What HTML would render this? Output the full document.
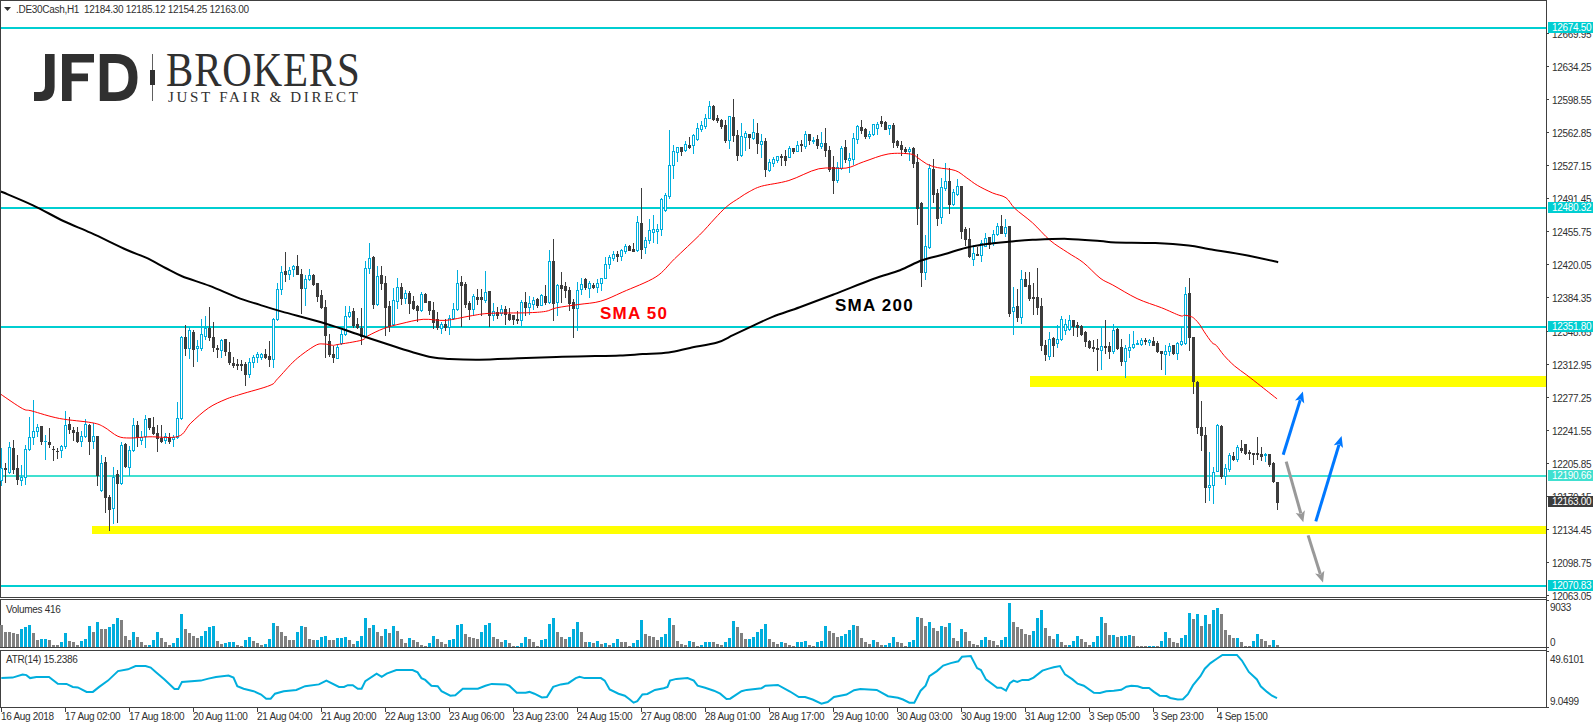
<!DOCTYPE html>
<html><head><meta charset="utf-8">
<style>
html,body{margin:0;padding:0;background:#fff;}
body{width:1593px;height:725px;position:relative;overflow:hidden;font-family:"Liberation Sans",sans-serif;}
svg{position:absolute;left:0;top:0;}
.t{position:absolute;font-size:10px;color:#303030;white-space:nowrap;line-height:12px;letter-spacing:-0.3px;}
.box{position:absolute;left:1548px;width:45px;height:11px;color:#fff;font-size:10px;line-height:11px;letter-spacing:-0.3px;padding-left:4px;box-sizing:border-box;white-space:nowrap;}
.sma{position:absolute;font-weight:bold;font-size:17px;line-height:17px;white-space:nowrap;letter-spacing:1.25px;}
.brk{position:absolute;font-family:"Liberation Serif",serif;color:#303030;white-space:nowrap;}
</style></head><body>
<svg width="1593" height="725" shape-rendering="crispEdges">

<rect x="0" y="0" width="1547" height="1" fill="#404040"/>
<rect x="0" y="0" width="1" height="598" fill="#404040"/>
<rect x="0" y="597" width="1547" height="1" fill="#404040"/>
<rect x="1546" y="0" width="1" height="708" fill="#404040"/>
<rect x="0" y="599" width="1547" height="1" fill="#404040"/>
<rect x="0" y="599" width="1" height="49" fill="#404040"/>
<rect x="0" y="647" width="1547" height="1" fill="#404040"/>
<rect x="0" y="650" width="1547" height="1" fill="#404040"/>
<rect x="0" y="650" width="1" height="58" fill="#404040"/>
<rect x="0" y="707" width="1547" height="1" fill="#404040"/>

<rect x="1547" y="33" width="2" height="1" fill="#404040"/><rect x="1547" y="66" width="2" height="1" fill="#404040"/><rect x="1547" y="99" width="2" height="1" fill="#404040"/><rect x="1547" y="132" width="2" height="1" fill="#404040"/><rect x="1547" y="165" width="2" height="1" fill="#404040"/><rect x="1547" y="198" width="2" height="1" fill="#404040"/><rect x="1547" y="231" width="2" height="1" fill="#404040"/><rect x="1547" y="264" width="2" height="1" fill="#404040"/><rect x="1547" y="297" width="2" height="1" fill="#404040"/><rect x="1547" y="331" width="2" height="1" fill="#404040"/><rect x="1547" y="364" width="2" height="1" fill="#404040"/><rect x="1547" y="397" width="2" height="1" fill="#404040"/><rect x="1547" y="430" width="2" height="1" fill="#404040"/><rect x="1547" y="463" width="2" height="1" fill="#404040"/><rect x="1547" y="496" width="2" height="1" fill="#404040"/><rect x="1547" y="529" width="2" height="1" fill="#404040"/><rect x="1547" y="562" width="2" height="1" fill="#404040"/><rect x="1547" y="595" width="2" height="1" fill="#404040"/><rect x="1547" y="600" width="2" height="1" fill="#404040"/><rect x="1547" y="647" width="2" height="1" fill="#404040"/><rect x="1547" y="651" width="2" height="1" fill="#404040"/><rect x="1547" y="707" width="2" height="1" fill="#404040"/><rect x="1" y="708" width="1" height="4" fill="#404040"/><rect x="65" y="708" width="1" height="4" fill="#404040"/><rect x="129" y="708" width="1" height="4" fill="#404040"/><rect x="193" y="708" width="1" height="4" fill="#404040"/><rect x="257" y="708" width="1" height="4" fill="#404040"/><rect x="321" y="708" width="1" height="4" fill="#404040"/><rect x="385" y="708" width="1" height="4" fill="#404040"/><rect x="449" y="708" width="1" height="4" fill="#404040"/><rect x="513" y="708" width="1" height="4" fill="#404040"/><rect x="577" y="708" width="1" height="4" fill="#404040"/><rect x="641" y="708" width="1" height="4" fill="#404040"/><rect x="705" y="708" width="1" height="4" fill="#404040"/><rect x="769" y="708" width="1" height="4" fill="#404040"/><rect x="833" y="708" width="1" height="4" fill="#404040"/><rect x="897" y="708" width="1" height="4" fill="#404040"/><rect x="961" y="708" width="1" height="4" fill="#404040"/><rect x="1025" y="708" width="1" height="4" fill="#404040"/><rect x="1089" y="708" width="1" height="4" fill="#404040"/><rect x="1153" y="708" width="1" height="4" fill="#404040"/><rect x="1217" y="708" width="1" height="4" fill="#404040"/>
<rect x="1" y="27" width="1545" height="2" fill="#00CED1"/><rect x="1" y="207" width="1545" height="2" fill="#00CED1"/><rect x="1" y="326" width="1545" height="2" fill="#00CED1"/><rect x="1" y="475" width="1545" height="2" fill="#40E0D0"/><rect x="1" y="585" width="1545" height="2" fill="#00CED1"/>
<rect x="1030" y="376" width="516" height="11" fill="#FFFF00"/><rect x="92" y="526" width="1454" height="8" fill="#FFFF00"/>
<rect x="0" y="625" width="3" height="22" fill="#808080"/><rect x="4" y="632" width="3" height="15" fill="#808080"/><rect x="8" y="632" width="3" height="15" fill="#808080"/><rect x="12" y="633" width="3" height="14" fill="#808080"/><rect x="16" y="634" width="3" height="13" fill="#808080"/><rect x="20" y="629" width="3" height="18" fill="#00AEDD"/><rect x="24" y="627" width="3" height="20" fill="#00AEDD"/><rect x="28" y="625" width="3" height="22" fill="#00AEDD"/><rect x="32" y="633" width="3" height="14" fill="#808080"/><rect x="36" y="640" width="3" height="7" fill="#808080"/><rect x="40" y="639" width="3" height="8" fill="#00AEDD"/><rect x="44" y="639" width="3" height="8" fill="#00AEDD"/><rect x="48" y="640" width="3" height="7" fill="#808080"/><rect x="52" y="645" width="3" height="2" fill="#808080"/><rect x="56" y="645" width="3" height="2" fill="#808080"/><rect x="60" y="642" width="3" height="5" fill="#00AEDD"/><rect x="64" y="633" width="3" height="14" fill="#00AEDD"/><rect x="68" y="641" width="3" height="6" fill="#808080"/><rect x="72" y="642" width="3" height="5" fill="#808080"/><rect x="76" y="645" width="3" height="2" fill="#808080"/><rect x="80" y="641" width="3" height="6" fill="#00AEDD"/><rect x="84" y="639" width="3" height="8" fill="#00AEDD"/><rect x="88" y="626" width="3" height="21" fill="#00AEDD"/><rect x="92" y="632" width="3" height="15" fill="#808080"/><rect x="96" y="622" width="3" height="25" fill="#00AEDD"/><rect x="100" y="629" width="3" height="18" fill="#808080"/><rect x="104" y="629" width="3" height="18" fill="#808080"/><rect x="108" y="627" width="3" height="20" fill="#00AEDD"/><rect x="112" y="624" width="3" height="23" fill="#00AEDD"/><rect x="116" y="618" width="3" height="29" fill="#00AEDD"/><rect x="120" y="620" width="3" height="27" fill="#808080"/><rect x="124" y="636" width="3" height="11" fill="#808080"/><rect x="128" y="640" width="3" height="7" fill="#808080"/><rect x="132" y="632" width="3" height="15" fill="#00AEDD"/><rect x="136" y="637" width="3" height="10" fill="#808080"/><rect x="140" y="642" width="3" height="5" fill="#808080"/><rect x="144" y="645" width="3" height="2" fill="#808080"/><rect x="148" y="645" width="3" height="2" fill="#00AEDD"/><rect x="152" y="640" width="3" height="7" fill="#00AEDD"/><rect x="156" y="632" width="3" height="15" fill="#00AEDD"/><rect x="160" y="638" width="3" height="9" fill="#808080"/><rect x="164" y="642" width="3" height="5" fill="#808080"/><rect x="168" y="645" width="3" height="2" fill="#808080"/><rect x="172" y="643" width="3" height="4" fill="#00AEDD"/><rect x="176" y="638" width="3" height="9" fill="#00AEDD"/><rect x="180" y="614" width="3" height="33" fill="#00AEDD"/><rect x="184" y="629" width="3" height="18" fill="#808080"/><rect x="188" y="633" width="3" height="14" fill="#808080"/><rect x="192" y="636" width="3" height="11" fill="#808080"/><rect x="196" y="638" width="3" height="9" fill="#808080"/><rect x="200" y="636" width="3" height="11" fill="#00AEDD"/><rect x="204" y="631" width="3" height="16" fill="#00AEDD"/><rect x="208" y="627" width="3" height="20" fill="#00AEDD"/><rect x="212" y="626" width="3" height="21" fill="#00AEDD"/><rect x="216" y="641" width="3" height="6" fill="#808080"/><rect x="220" y="644" width="3" height="3" fill="#808080"/><rect x="224" y="643" width="3" height="4" fill="#00AEDD"/><rect x="228" y="642" width="3" height="5" fill="#00AEDD"/><rect x="232" y="642" width="3" height="5" fill="#00AEDD"/><rect x="236" y="645" width="3" height="2" fill="#808080"/><rect x="240" y="646" width="3" height="1" fill="#808080"/><rect x="244" y="640" width="3" height="7" fill="#00AEDD"/><rect x="248" y="637" width="3" height="10" fill="#00AEDD"/><rect x="252" y="641" width="3" height="6" fill="#808080"/><rect x="256" y="643" width="3" height="4" fill="#808080"/><rect x="260" y="645" width="3" height="2" fill="#808080"/><rect x="264" y="644" width="3" height="3" fill="#00AEDD"/><rect x="268" y="639" width="3" height="8" fill="#00AEDD"/><rect x="272" y="623" width="3" height="24" fill="#00AEDD"/><rect x="276" y="626" width="3" height="21" fill="#808080"/><rect x="280" y="632" width="3" height="15" fill="#808080"/><rect x="284" y="636" width="3" height="11" fill="#808080"/><rect x="288" y="640" width="3" height="7" fill="#808080"/><rect x="292" y="640" width="3" height="7" fill="#808080"/><rect x="296" y="632" width="3" height="15" fill="#00AEDD"/><rect x="300" y="626" width="3" height="21" fill="#00AEDD"/><rect x="304" y="627" width="3" height="20" fill="#808080"/><rect x="308" y="639" width="3" height="8" fill="#808080"/><rect x="312" y="640" width="3" height="7" fill="#808080"/><rect x="316" y="640" width="3" height="7" fill="#00AEDD"/><rect x="320" y="637" width="3" height="10" fill="#00AEDD"/><rect x="324" y="636" width="3" height="11" fill="#00AEDD"/><rect x="328" y="640" width="3" height="7" fill="#808080"/><rect x="332" y="640" width="3" height="7" fill="#808080"/><rect x="336" y="638" width="3" height="9" fill="#00AEDD"/><rect x="340" y="638" width="3" height="9" fill="#00AEDD"/><rect x="344" y="637" width="3" height="10" fill="#00AEDD"/><rect x="348" y="640" width="3" height="7" fill="#808080"/><rect x="352" y="644" width="3" height="3" fill="#808080"/><rect x="356" y="641" width="3" height="6" fill="#00AEDD"/><rect x="360" y="636" width="3" height="11" fill="#00AEDD"/><rect x="364" y="618" width="3" height="29" fill="#00AEDD"/><rect x="368" y="628" width="3" height="19" fill="#808080"/><rect x="372" y="625" width="3" height="22" fill="#00AEDD"/><rect x="376" y="632" width="3" height="15" fill="#808080"/><rect x="380" y="636" width="3" height="11" fill="#808080"/><rect x="384" y="629" width="3" height="18" fill="#00AEDD"/><rect x="388" y="633" width="3" height="14" fill="#808080"/><rect x="392" y="626" width="3" height="21" fill="#00AEDD"/><rect x="396" y="631" width="3" height="16" fill="#808080"/><rect x="400" y="639" width="3" height="8" fill="#808080"/><rect x="404" y="643" width="3" height="4" fill="#808080"/><rect x="408" y="638" width="3" height="9" fill="#00AEDD"/><rect x="412" y="640" width="3" height="7" fill="#808080"/><rect x="416" y="642" width="3" height="5" fill="#808080"/><rect x="420" y="645" width="3" height="2" fill="#808080"/><rect x="424" y="646" width="3" height="1" fill="#808080"/><rect x="428" y="643" width="3" height="4" fill="#00AEDD"/><rect x="432" y="636" width="3" height="11" fill="#00AEDD"/><rect x="436" y="639" width="3" height="8" fill="#808080"/><rect x="440" y="642" width="3" height="5" fill="#808080"/><rect x="444" y="644" width="3" height="3" fill="#808080"/><rect x="448" y="640" width="3" height="7" fill="#00AEDD"/><rect x="452" y="639" width="3" height="8" fill="#00AEDD"/><rect x="456" y="625" width="3" height="22" fill="#00AEDD"/><rect x="460" y="624" width="3" height="23" fill="#00AEDD"/><rect x="464" y="634" width="3" height="13" fill="#808080"/><rect x="468" y="637" width="3" height="10" fill="#808080"/><rect x="472" y="638" width="3" height="9" fill="#808080"/><rect x="476" y="639" width="3" height="8" fill="#808080"/><rect x="480" y="632" width="3" height="15" fill="#00AEDD"/><rect x="484" y="625" width="3" height="22" fill="#00AEDD"/><rect x="488" y="623" width="3" height="24" fill="#00AEDD"/><rect x="492" y="637" width="3" height="10" fill="#808080"/><rect x="496" y="639" width="3" height="8" fill="#808080"/><rect x="500" y="642" width="3" height="5" fill="#808080"/><rect x="504" y="640" width="3" height="7" fill="#00AEDD"/><rect x="508" y="643" width="3" height="4" fill="#808080"/><rect x="512" y="646" width="3" height="1" fill="#808080"/><rect x="516" y="646" width="3" height="1" fill="#00AEDD"/><rect x="520" y="643" width="3" height="4" fill="#00AEDD"/><rect x="524" y="637" width="3" height="10" fill="#00AEDD"/><rect x="528" y="639" width="3" height="8" fill="#808080"/><rect x="532" y="642" width="3" height="5" fill="#808080"/><rect x="536" y="646" width="3" height="1" fill="#808080"/><rect x="540" y="640" width="3" height="7" fill="#00AEDD"/><rect x="544" y="639" width="3" height="8" fill="#00AEDD"/><rect x="548" y="624" width="3" height="23" fill="#00AEDD"/><rect x="552" y="618" width="3" height="29" fill="#00AEDD"/><rect x="556" y="632" width="3" height="15" fill="#808080"/><rect x="560" y="637" width="3" height="10" fill="#808080"/><rect x="564" y="639" width="3" height="8" fill="#808080"/><rect x="568" y="637" width="3" height="10" fill="#00AEDD"/><rect x="572" y="629" width="3" height="18" fill="#00AEDD"/><rect x="576" y="622" width="3" height="25" fill="#00AEDD"/><rect x="580" y="632" width="3" height="15" fill="#808080"/><rect x="584" y="642" width="3" height="5" fill="#808080"/><rect x="588" y="642" width="3" height="5" fill="#00AEDD"/><rect x="592" y="643" width="3" height="4" fill="#808080"/><rect x="596" y="641" width="3" height="6" fill="#00AEDD"/><rect x="600" y="644" width="3" height="3" fill="#808080"/><rect x="604" y="643" width="3" height="4" fill="#00AEDD"/><rect x="608" y="645" width="3" height="2" fill="#808080"/><rect x="612" y="643" width="3" height="4" fill="#00AEDD"/><rect x="616" y="639" width="3" height="8" fill="#00AEDD"/><rect x="620" y="642" width="3" height="5" fill="#808080"/><rect x="624" y="642" width="3" height="5" fill="#808080"/><rect x="628" y="646" width="3" height="1" fill="#808080"/><rect x="632" y="643" width="3" height="4" fill="#00AEDD"/><rect x="636" y="640" width="3" height="7" fill="#00AEDD"/><rect x="640" y="620" width="3" height="27" fill="#00AEDD"/><rect x="644" y="634" width="3" height="13" fill="#808080"/><rect x="648" y="636" width="3" height="11" fill="#808080"/><rect x="652" y="637" width="3" height="10" fill="#808080"/><rect x="656" y="640" width="3" height="7" fill="#808080"/><rect x="660" y="637" width="3" height="10" fill="#00AEDD"/><rect x="664" y="634" width="3" height="13" fill="#00AEDD"/><rect x="668" y="618" width="3" height="29" fill="#00AEDD"/><rect x="672" y="625" width="3" height="22" fill="#808080"/><rect x="676" y="641" width="3" height="6" fill="#808080"/><rect x="680" y="644" width="3" height="3" fill="#808080"/><rect x="684" y="645" width="3" height="2" fill="#808080"/><rect x="688" y="641" width="3" height="6" fill="#00AEDD"/><rect x="692" y="642" width="3" height="5" fill="#808080"/><rect x="696" y="646" width="3" height="1" fill="#808080"/><rect x="700" y="645" width="3" height="2" fill="#00AEDD"/><rect x="704" y="642" width="3" height="5" fill="#00AEDD"/><rect x="708" y="642" width="3" height="5" fill="#00AEDD"/><rect x="712" y="642" width="3" height="5" fill="#808080"/><rect x="716" y="644" width="3" height="3" fill="#808080"/><rect x="720" y="645" width="3" height="2" fill="#808080"/><rect x="724" y="642" width="3" height="5" fill="#00AEDD"/><rect x="728" y="638" width="3" height="9" fill="#00AEDD"/><rect x="732" y="621" width="3" height="26" fill="#00AEDD"/><rect x="736" y="627" width="3" height="20" fill="#808080"/><rect x="740" y="633" width="3" height="14" fill="#808080"/><rect x="744" y="639" width="3" height="8" fill="#808080"/><rect x="748" y="639" width="3" height="8" fill="#00AEDD"/><rect x="752" y="637" width="3" height="10" fill="#00AEDD"/><rect x="756" y="632" width="3" height="15" fill="#00AEDD"/><rect x="760" y="629" width="3" height="18" fill="#00AEDD"/><rect x="764" y="624" width="3" height="23" fill="#00AEDD"/><rect x="768" y="639" width="3" height="8" fill="#808080"/><rect x="772" y="642" width="3" height="5" fill="#808080"/><rect x="776" y="644" width="3" height="3" fill="#808080"/><rect x="780" y="642" width="3" height="5" fill="#00AEDD"/><rect x="784" y="643" width="3" height="4" fill="#808080"/><rect x="788" y="645" width="3" height="2" fill="#808080"/><rect x="792" y="646" width="3" height="1" fill="#808080"/><rect x="796" y="642" width="3" height="5" fill="#00AEDD"/><rect x="800" y="642" width="3" height="5" fill="#00AEDD"/><rect x="804" y="641" width="3" height="6" fill="#00AEDD"/><rect x="808" y="645" width="3" height="2" fill="#808080"/><rect x="812" y="646" width="3" height="1" fill="#808080"/><rect x="816" y="642" width="3" height="5" fill="#00AEDD"/><rect x="820" y="641" width="3" height="6" fill="#00AEDD"/><rect x="824" y="626" width="3" height="21" fill="#00AEDD"/><rect x="828" y="631" width="3" height="16" fill="#808080"/><rect x="832" y="633" width="3" height="14" fill="#808080"/><rect x="836" y="637" width="3" height="10" fill="#808080"/><rect x="840" y="636" width="3" height="11" fill="#00AEDD"/><rect x="844" y="634" width="3" height="13" fill="#00AEDD"/><rect x="848" y="630" width="3" height="17" fill="#00AEDD"/><rect x="852" y="625" width="3" height="22" fill="#00AEDD"/><rect x="856" y="626" width="3" height="21" fill="#808080"/><rect x="860" y="638" width="3" height="9" fill="#808080"/><rect x="864" y="642" width="3" height="5" fill="#808080"/><rect x="868" y="644" width="3" height="3" fill="#808080"/><rect x="872" y="640" width="3" height="7" fill="#00AEDD"/><rect x="876" y="642" width="3" height="5" fill="#808080"/><rect x="880" y="645" width="3" height="2" fill="#808080"/><rect x="884" y="645" width="3" height="2" fill="#00AEDD"/><rect x="888" y="643" width="3" height="4" fill="#00AEDD"/><rect x="892" y="637" width="3" height="10" fill="#00AEDD"/><rect x="896" y="642" width="3" height="5" fill="#808080"/><rect x="900" y="643" width="3" height="4" fill="#808080"/><rect x="904" y="646" width="3" height="1" fill="#808080"/><rect x="908" y="642" width="3" height="5" fill="#00AEDD"/><rect x="912" y="640" width="3" height="7" fill="#00AEDD"/><rect x="916" y="617" width="3" height="30" fill="#00AEDD"/><rect x="920" y="618" width="3" height="29" fill="#808080"/><rect x="924" y="626" width="3" height="21" fill="#808080"/><rect x="928" y="622" width="3" height="25" fill="#00AEDD"/><rect x="932" y="628" width="3" height="19" fill="#808080"/><rect x="936" y="631" width="3" height="16" fill="#808080"/><rect x="940" y="626" width="3" height="21" fill="#00AEDD"/><rect x="944" y="627" width="3" height="20" fill="#808080"/><rect x="948" y="623" width="3" height="24" fill="#00AEDD"/><rect x="952" y="638" width="3" height="9" fill="#808080"/><rect x="956" y="641" width="3" height="6" fill="#808080"/><rect x="960" y="629" width="3" height="18" fill="#00AEDD"/><rect x="964" y="632" width="3" height="15" fill="#808080"/><rect x="968" y="641" width="3" height="6" fill="#808080"/><rect x="972" y="644" width="3" height="3" fill="#808080"/><rect x="976" y="645" width="3" height="2" fill="#808080"/><rect x="980" y="640" width="3" height="7" fill="#00AEDD"/><rect x="984" y="637" width="3" height="10" fill="#00AEDD"/><rect x="988" y="640" width="3" height="7" fill="#808080"/><rect x="992" y="641" width="3" height="6" fill="#808080"/><rect x="996" y="645" width="3" height="2" fill="#808080"/><rect x="1000" y="640" width="3" height="7" fill="#00AEDD"/><rect x="1004" y="637" width="3" height="10" fill="#00AEDD"/><rect x="1008" y="603" width="3" height="44" fill="#00AEDD"/><rect x="1012" y="622" width="3" height="25" fill="#808080"/><rect x="1016" y="627" width="3" height="20" fill="#808080"/><rect x="1020" y="629" width="3" height="18" fill="#808080"/><rect x="1024" y="634" width="3" height="13" fill="#808080"/><rect x="1028" y="635" width="3" height="12" fill="#808080"/><rect x="1032" y="631" width="3" height="16" fill="#00AEDD"/><rect x="1036" y="618" width="3" height="29" fill="#00AEDD"/><rect x="1040" y="610" width="3" height="37" fill="#00AEDD"/><rect x="1044" y="628" width="3" height="19" fill="#808080"/><rect x="1048" y="636" width="3" height="11" fill="#808080"/><rect x="1052" y="639" width="3" height="8" fill="#808080"/><rect x="1056" y="634" width="3" height="13" fill="#00AEDD"/><rect x="1060" y="642" width="3" height="5" fill="#808080"/><rect x="1064" y="645" width="3" height="2" fill="#808080"/><rect x="1068" y="645" width="3" height="2" fill="#00AEDD"/><rect x="1072" y="641" width="3" height="6" fill="#00AEDD"/><rect x="1076" y="636" width="3" height="11" fill="#00AEDD"/><rect x="1080" y="639" width="3" height="8" fill="#808080"/><rect x="1084" y="642" width="3" height="5" fill="#808080"/><rect x="1088" y="645" width="3" height="2" fill="#808080"/><rect x="1092" y="642" width="3" height="5" fill="#00AEDD"/><rect x="1096" y="636" width="3" height="11" fill="#00AEDD"/><rect x="1100" y="617" width="3" height="30" fill="#00AEDD"/><rect x="1104" y="623" width="3" height="24" fill="#808080"/><rect x="1108" y="635" width="3" height="12" fill="#808080"/><rect x="1112" y="635" width="3" height="12" fill="#00AEDD"/><rect x="1116" y="637" width="3" height="10" fill="#808080"/><rect x="1120" y="636" width="3" height="11" fill="#00AEDD"/><rect x="1124" y="636" width="3" height="11" fill="#00AEDD"/><rect x="1128" y="635" width="3" height="12" fill="#00AEDD"/><rect x="1132" y="636" width="3" height="11" fill="#808080"/><rect x="1136" y="646" width="3" height="1" fill="#808080"/><rect x="1140" y="646" width="3" height="1" fill="#808080"/><rect x="1144" y="646" width="3" height="1" fill="#808080"/><rect x="1148" y="646" width="3" height="1" fill="#00AEDD"/><rect x="1152" y="646" width="3" height="1" fill="#00AEDD"/><rect x="1156" y="646" width="3" height="1" fill="#808080"/><rect x="1160" y="641" width="3" height="6" fill="#00AEDD"/><rect x="1164" y="632" width="3" height="15" fill="#00AEDD"/><rect x="1168" y="638" width="3" height="9" fill="#808080"/><rect x="1172" y="642" width="3" height="5" fill="#808080"/><rect x="1176" y="643" width="3" height="4" fill="#808080"/><rect x="1180" y="638" width="3" height="9" fill="#00AEDD"/><rect x="1184" y="635" width="3" height="12" fill="#00AEDD"/><rect x="1188" y="613" width="3" height="34" fill="#00AEDD"/><rect x="1192" y="619" width="3" height="28" fill="#808080"/><rect x="1196" y="614" width="3" height="33" fill="#00AEDD"/><rect x="1200" y="626" width="3" height="21" fill="#808080"/><rect x="1204" y="615" width="3" height="32" fill="#00AEDD"/><rect x="1208" y="624" width="3" height="23" fill="#808080"/><rect x="1212" y="610" width="3" height="37" fill="#00AEDD"/><rect x="1216" y="608" width="3" height="39" fill="#00AEDD"/><rect x="1220" y="614" width="3" height="33" fill="#808080"/><rect x="1224" y="630" width="3" height="17" fill="#808080"/><rect x="1228" y="635" width="3" height="12" fill="#808080"/><rect x="1232" y="638" width="3" height="9" fill="#808080"/><rect x="1236" y="638" width="3" height="9" fill="#00AEDD"/><rect x="1240" y="642" width="3" height="5" fill="#808080"/><rect x="1244" y="646" width="3" height="1" fill="#808080"/><rect x="1248" y="646" width="3" height="1" fill="#808080"/><rect x="1252" y="641" width="3" height="6" fill="#00AEDD"/><rect x="1256" y="634" width="3" height="13" fill="#00AEDD"/><rect x="1260" y="639" width="3" height="8" fill="#808080"/><rect x="1264" y="641" width="3" height="6" fill="#808080"/><rect x="1268" y="645" width="3" height="2" fill="#808080"/><rect x="1272" y="640" width="3" height="7" fill="#00AEDD"/><rect x="1276" y="645" width="3" height="2" fill="#808080"/>
<rect x="1" y="448" width="1" height="20" fill="#00AEDD"/><rect x="1" y="481" width="1" height="5" fill="#00AEDD"/><rect x="0" y="468" width="3" height="13" fill="#00AEDD"/><rect x="1" y="469" width="1" height="11" fill="#fff"/><rect x="5" y="463" width="1" height="5" fill="#3C3C3C"/><rect x="5" y="470" width="1" height="13" fill="#3C3C3C"/><rect x="4" y="468" width="3" height="2" fill="#3C3C3C"/><rect x="9" y="442" width="1" height="5" fill="#00AEDD"/><rect x="9" y="473" width="1" height="1" fill="#00AEDD"/><rect x="8" y="447" width="3" height="26" fill="#00AEDD"/><rect x="9" y="448" width="1" height="24" fill="#fff"/><rect x="13" y="440" width="1" height="8" fill="#3C3C3C"/><rect x="13" y="470" width="1" height="4" fill="#3C3C3C"/><rect x="12" y="448" width="3" height="22" fill="#3C3C3C"/><rect x="17" y="455" width="1" height="13" fill="#3C3C3C"/><rect x="17" y="480" width="1" height="5" fill="#3C3C3C"/><rect x="16" y="468" width="3" height="12" fill="#3C3C3C"/><rect x="21" y="465" width="1" height="12" fill="#00AEDD"/><rect x="21" y="481" width="1" height="5" fill="#00AEDD"/><rect x="20" y="477" width="3" height="4" fill="#00AEDD"/><rect x="21" y="478" width="1" height="2" fill="#fff"/><rect x="25" y="445" width="1" height="4" fill="#00AEDD"/><rect x="25" y="478" width="1" height="7" fill="#00AEDD"/><rect x="24" y="449" width="3" height="29" fill="#00AEDD"/><rect x="25" y="450" width="1" height="27" fill="#fff"/><rect x="29" y="417" width="1" height="20" fill="#00AEDD"/><rect x="29" y="450" width="1" height="1" fill="#00AEDD"/><rect x="28" y="437" width="3" height="13" fill="#00AEDD"/><rect x="29" y="438" width="1" height="11" fill="#fff"/><rect x="33" y="400" width="1" height="31" fill="#00AEDD"/><rect x="33" y="438" width="1" height="7" fill="#00AEDD"/><rect x="32" y="431" width="3" height="7" fill="#00AEDD"/><rect x="33" y="432" width="1" height="5" fill="#fff"/><rect x="37" y="424" width="1" height="3" fill="#00AEDD"/><rect x="37" y="432" width="1" height="5" fill="#00AEDD"/><rect x="36" y="427" width="3" height="5" fill="#00AEDD"/><rect x="37" y="428" width="1" height="3" fill="#fff"/><rect x="41" y="442" width="1" height="3" fill="#3C3C3C"/><rect x="40" y="426" width="3" height="16" fill="#3C3C3C"/><rect x="45" y="435" width="1" height="6" fill="#00AEDD"/><rect x="45" y="442" width="1" height="18" fill="#00AEDD"/><rect x="44" y="441" width="3" height="1" fill="#00AEDD"/><rect x="49" y="428" width="1" height="14" fill="#3C3C3C"/><rect x="49" y="445" width="1" height="3" fill="#3C3C3C"/><rect x="48" y="442" width="3" height="3" fill="#3C3C3C"/><rect x="53" y="446" width="1" height="3" fill="#3C3C3C"/><rect x="53" y="450" width="1" height="11" fill="#3C3C3C"/><rect x="52" y="449" width="3" height="1" fill="#3C3C3C"/><rect x="57" y="448" width="1" height="3" fill="#3C3C3C"/><rect x="57" y="452" width="1" height="7" fill="#3C3C3C"/><rect x="56" y="451" width="3" height="1" fill="#3C3C3C"/><rect x="61" y="445" width="1" height="1" fill="#00AEDD"/><rect x="61" y="451" width="1" height="7" fill="#00AEDD"/><rect x="60" y="446" width="3" height="5" fill="#00AEDD"/><rect x="61" y="447" width="1" height="3" fill="#fff"/><rect x="65" y="411" width="1" height="14" fill="#00AEDD"/><rect x="65" y="447" width="1" height="2" fill="#00AEDD"/><rect x="64" y="425" width="3" height="22" fill="#00AEDD"/><rect x="65" y="426" width="1" height="20" fill="#fff"/><rect x="69" y="417" width="1" height="7" fill="#3C3C3C"/><rect x="69" y="430" width="1" height="4" fill="#3C3C3C"/><rect x="68" y="424" width="3" height="6" fill="#3C3C3C"/><rect x="73" y="427" width="1" height="3" fill="#3C3C3C"/><rect x="73" y="433" width="1" height="8" fill="#3C3C3C"/><rect x="72" y="430" width="3" height="3" fill="#3C3C3C"/><rect x="77" y="427" width="1" height="5" fill="#3C3C3C"/><rect x="77" y="442" width="1" height="1" fill="#3C3C3C"/><rect x="76" y="432" width="3" height="10" fill="#3C3C3C"/><rect x="81" y="431" width="1" height="5" fill="#00AEDD"/><rect x="81" y="442" width="1" height="5" fill="#00AEDD"/><rect x="80" y="436" width="3" height="6" fill="#00AEDD"/><rect x="81" y="437" width="1" height="4" fill="#fff"/><rect x="85" y="419" width="1" height="5" fill="#00AEDD"/><rect x="85" y="437" width="1" height="1" fill="#00AEDD"/><rect x="84" y="424" width="3" height="13" fill="#00AEDD"/><rect x="85" y="425" width="1" height="11" fill="#fff"/><rect x="89" y="424" width="1" height="1" fill="#3C3C3C"/><rect x="89" y="442" width="1" height="13" fill="#3C3C3C"/><rect x="88" y="425" width="3" height="17" fill="#3C3C3C"/><rect x="93" y="423" width="1" height="13" fill="#00AEDD"/><rect x="93" y="442" width="1" height="7" fill="#00AEDD"/><rect x="92" y="436" width="3" height="6" fill="#00AEDD"/><rect x="93" y="437" width="1" height="4" fill="#fff"/><rect x="97" y="476" width="1" height="10" fill="#3C3C3C"/><rect x="96" y="436" width="3" height="40" fill="#3C3C3C"/><rect x="101" y="455" width="1" height="8" fill="#00AEDD"/><rect x="101" y="491" width="1" height="1" fill="#00AEDD"/><rect x="100" y="463" width="3" height="28" fill="#00AEDD"/><rect x="101" y="464" width="1" height="26" fill="#fff"/><rect x="105" y="457" width="1" height="5" fill="#3C3C3C"/><rect x="105" y="498" width="1" height="15" fill="#3C3C3C"/><rect x="104" y="462" width="3" height="36" fill="#3C3C3C"/><rect x="109" y="495" width="1" height="2" fill="#3C3C3C"/><rect x="109" y="510" width="1" height="21" fill="#3C3C3C"/><rect x="108" y="497" width="3" height="13" fill="#3C3C3C"/><rect x="113" y="467" width="1" height="10" fill="#00AEDD"/><rect x="113" y="509" width="1" height="15" fill="#00AEDD"/><rect x="112" y="477" width="3" height="32" fill="#00AEDD"/><rect x="113" y="478" width="1" height="30" fill="#fff"/><rect x="117" y="470" width="1" height="4" fill="#3C3C3C"/><rect x="117" y="484" width="1" height="39" fill="#3C3C3C"/><rect x="116" y="474" width="3" height="10" fill="#3C3C3C"/><rect x="121" y="442" width="1" height="3" fill="#00AEDD"/><rect x="121" y="484" width="1" height="1" fill="#00AEDD"/><rect x="120" y="445" width="3" height="39" fill="#00AEDD"/><rect x="121" y="446" width="1" height="37" fill="#fff"/><rect x="125" y="443" width="1" height="1" fill="#3C3C3C"/><rect x="125" y="467" width="1" height="1" fill="#3C3C3C"/><rect x="124" y="444" width="3" height="23" fill="#3C3C3C"/><rect x="129" y="446" width="1" height="4" fill="#00AEDD"/><rect x="129" y="468" width="1" height="8" fill="#00AEDD"/><rect x="128" y="450" width="3" height="18" fill="#00AEDD"/><rect x="129" y="451" width="1" height="16" fill="#fff"/><rect x="133" y="418" width="1" height="7" fill="#00AEDD"/><rect x="133" y="451" width="1" height="1" fill="#00AEDD"/><rect x="132" y="425" width="3" height="26" fill="#00AEDD"/><rect x="133" y="426" width="1" height="24" fill="#fff"/><rect x="137" y="421" width="1" height="4" fill="#3C3C3C"/><rect x="137" y="438" width="1" height="9" fill="#3C3C3C"/><rect x="136" y="425" width="3" height="13" fill="#3C3C3C"/><rect x="141" y="431" width="1" height="6" fill="#00AEDD"/><rect x="141" y="441" width="1" height="4" fill="#00AEDD"/><rect x="140" y="437" width="3" height="4" fill="#00AEDD"/><rect x="141" y="438" width="1" height="2" fill="#fff"/><rect x="145" y="415" width="1" height="4" fill="#00AEDD"/><rect x="145" y="437" width="1" height="11" fill="#00AEDD"/><rect x="144" y="419" width="3" height="18" fill="#00AEDD"/><rect x="145" y="420" width="1" height="16" fill="#fff"/><rect x="149" y="428" width="1" height="2" fill="#3C3C3C"/><rect x="148" y="418" width="3" height="10" fill="#3C3C3C"/><rect x="153" y="417" width="1" height="10" fill="#3C3C3C"/><rect x="153" y="434" width="1" height="1" fill="#3C3C3C"/><rect x="152" y="427" width="3" height="7" fill="#3C3C3C"/><rect x="157" y="425" width="1" height="8" fill="#3C3C3C"/><rect x="157" y="439" width="1" height="13" fill="#3C3C3C"/><rect x="156" y="433" width="3" height="6" fill="#3C3C3C"/><rect x="161" y="425" width="1" height="13" fill="#3C3C3C"/><rect x="161" y="442" width="1" height="1" fill="#3C3C3C"/><rect x="160" y="438" width="3" height="4" fill="#3C3C3C"/><rect x="165" y="433" width="1" height="3" fill="#00AEDD"/><rect x="165" y="441" width="1" height="3" fill="#00AEDD"/><rect x="164" y="436" width="3" height="5" fill="#00AEDD"/><rect x="165" y="437" width="1" height="3" fill="#fff"/><rect x="169" y="433" width="1" height="4" fill="#3C3C3C"/><rect x="169" y="442" width="1" height="2" fill="#3C3C3C"/><rect x="168" y="437" width="3" height="5" fill="#3C3C3C"/><rect x="173" y="435" width="1" height="2" fill="#00AEDD"/><rect x="173" y="440" width="1" height="7" fill="#00AEDD"/><rect x="172" y="437" width="3" height="3" fill="#00AEDD"/><rect x="173" y="438" width="1" height="1" fill="#fff"/><rect x="177" y="402" width="1" height="16" fill="#00AEDD"/><rect x="177" y="438" width="1" height="1" fill="#00AEDD"/><rect x="176" y="418" width="3" height="20" fill="#00AEDD"/><rect x="177" y="419" width="1" height="18" fill="#fff"/><rect x="181" y="336" width="1" height="1" fill="#00AEDD"/><rect x="181" y="419" width="1" height="1" fill="#00AEDD"/><rect x="180" y="337" width="3" height="82" fill="#00AEDD"/><rect x="181" y="338" width="1" height="80" fill="#fff"/><rect x="185" y="325" width="1" height="12" fill="#3C3C3C"/><rect x="185" y="349" width="1" height="7" fill="#3C3C3C"/><rect x="184" y="337" width="3" height="12" fill="#3C3C3C"/><rect x="189" y="327" width="1" height="3" fill="#00AEDD"/><rect x="189" y="349" width="1" height="10" fill="#00AEDD"/><rect x="188" y="330" width="3" height="19" fill="#00AEDD"/><rect x="189" y="331" width="1" height="17" fill="#fff"/><rect x="193" y="330" width="1" height="2" fill="#3C3C3C"/><rect x="193" y="350" width="1" height="17" fill="#3C3C3C"/><rect x="192" y="332" width="3" height="18" fill="#3C3C3C"/><rect x="197" y="340" width="1" height="6" fill="#00AEDD"/><rect x="197" y="349" width="1" height="13" fill="#00AEDD"/><rect x="196" y="346" width="3" height="3" fill="#00AEDD"/><rect x="197" y="347" width="1" height="1" fill="#fff"/><rect x="201" y="319" width="1" height="15" fill="#00AEDD"/><rect x="201" y="349" width="1" height="2" fill="#00AEDD"/><rect x="200" y="334" width="3" height="15" fill="#00AEDD"/><rect x="201" y="335" width="1" height="13" fill="#fff"/><rect x="205" y="316" width="1" height="12" fill="#00AEDD"/><rect x="205" y="337" width="1" height="3" fill="#00AEDD"/><rect x="204" y="328" width="3" height="9" fill="#00AEDD"/><rect x="205" y="329" width="1" height="7" fill="#fff"/><rect x="209" y="307" width="1" height="21" fill="#3C3C3C"/><rect x="209" y="338" width="1" height="3" fill="#3C3C3C"/><rect x="208" y="328" width="3" height="10" fill="#3C3C3C"/><rect x="213" y="322" width="1" height="15" fill="#3C3C3C"/><rect x="213" y="348" width="1" height="4" fill="#3C3C3C"/><rect x="212" y="337" width="3" height="11" fill="#3C3C3C"/><rect x="217" y="345" width="1" height="3" fill="#3C3C3C"/><rect x="217" y="350" width="1" height="8" fill="#3C3C3C"/><rect x="216" y="348" width="3" height="2" fill="#3C3C3C"/><rect x="221" y="339" width="1" height="1" fill="#00AEDD"/><rect x="221" y="351" width="1" height="7" fill="#00AEDD"/><rect x="220" y="340" width="3" height="11" fill="#00AEDD"/><rect x="221" y="341" width="1" height="9" fill="#fff"/><rect x="225" y="352" width="1" height="4" fill="#3C3C3C"/><rect x="224" y="339" width="3" height="13" fill="#3C3C3C"/><rect x="229" y="342" width="1" height="10" fill="#3C3C3C"/><rect x="229" y="363" width="1" height="2" fill="#3C3C3C"/><rect x="228" y="352" width="3" height="11" fill="#3C3C3C"/><rect x="233" y="357" width="1" height="6" fill="#3C3C3C"/><rect x="233" y="366" width="1" height="2" fill="#3C3C3C"/><rect x="232" y="363" width="3" height="3" fill="#3C3C3C"/><rect x="237" y="359" width="1" height="5" fill="#3C3C3C"/><rect x="237" y="366" width="1" height="4" fill="#3C3C3C"/><rect x="236" y="364" width="3" height="2" fill="#3C3C3C"/><rect x="241" y="360" width="1" height="4" fill="#3C3C3C"/><rect x="241" y="366" width="1" height="5" fill="#3C3C3C"/><rect x="240" y="364" width="3" height="2" fill="#3C3C3C"/><rect x="245" y="362" width="1" height="2" fill="#3C3C3C"/><rect x="245" y="375" width="1" height="11" fill="#3C3C3C"/><rect x="244" y="364" width="3" height="11" fill="#3C3C3C"/><rect x="249" y="358" width="1" height="4" fill="#00AEDD"/><rect x="249" y="375" width="1" height="3" fill="#00AEDD"/><rect x="248" y="362" width="3" height="13" fill="#00AEDD"/><rect x="249" y="363" width="1" height="11" fill="#fff"/><rect x="253" y="355" width="1" height="2" fill="#00AEDD"/><rect x="253" y="363" width="1" height="5" fill="#00AEDD"/><rect x="252" y="357" width="3" height="6" fill="#00AEDD"/><rect x="253" y="358" width="1" height="4" fill="#fff"/><rect x="257" y="352" width="1" height="2" fill="#00AEDD"/><rect x="257" y="358" width="1" height="5" fill="#00AEDD"/><rect x="256" y="354" width="3" height="4" fill="#00AEDD"/><rect x="257" y="355" width="1" height="2" fill="#fff"/><rect x="261" y="353" width="1" height="1" fill="#00AEDD"/><rect x="261" y="358" width="1" height="2" fill="#00AEDD"/><rect x="260" y="354" width="3" height="4" fill="#00AEDD"/><rect x="261" y="355" width="1" height="2" fill="#fff"/><rect x="265" y="349" width="1" height="5" fill="#3C3C3C"/><rect x="265" y="358" width="1" height="1" fill="#3C3C3C"/><rect x="264" y="354" width="3" height="4" fill="#3C3C3C"/><rect x="269" y="341" width="1" height="15" fill="#3C3C3C"/><rect x="269" y="360" width="1" height="7" fill="#3C3C3C"/><rect x="268" y="356" width="3" height="4" fill="#3C3C3C"/><rect x="273" y="318" width="1" height="1" fill="#00AEDD"/><rect x="273" y="360" width="1" height="8" fill="#00AEDD"/><rect x="272" y="319" width="3" height="41" fill="#00AEDD"/><rect x="273" y="320" width="1" height="39" fill="#fff"/><rect x="277" y="283" width="1" height="6" fill="#00AEDD"/><rect x="277" y="320" width="1" height="1" fill="#00AEDD"/><rect x="276" y="289" width="3" height="31" fill="#00AEDD"/><rect x="277" y="290" width="1" height="29" fill="#fff"/><rect x="281" y="266" width="1" height="6" fill="#00AEDD"/><rect x="281" y="290" width="1" height="5" fill="#00AEDD"/><rect x="280" y="272" width="3" height="18" fill="#00AEDD"/><rect x="281" y="273" width="1" height="16" fill="#fff"/><rect x="285" y="252" width="1" height="19" fill="#3C3C3C"/><rect x="285" y="275" width="1" height="7" fill="#3C3C3C"/><rect x="284" y="271" width="3" height="4" fill="#3C3C3C"/><rect x="289" y="267" width="1" height="3" fill="#00AEDD"/><rect x="289" y="275" width="1" height="5" fill="#00AEDD"/><rect x="288" y="270" width="3" height="5" fill="#00AEDD"/><rect x="289" y="271" width="1" height="3" fill="#fff"/><rect x="293" y="265" width="1" height="1" fill="#00AEDD"/><rect x="293" y="270" width="1" height="7" fill="#00AEDD"/><rect x="292" y="266" width="3" height="4" fill="#00AEDD"/><rect x="293" y="267" width="1" height="2" fill="#fff"/><rect x="297" y="255" width="1" height="11" fill="#3C3C3C"/><rect x="296" y="266" width="3" height="9" fill="#3C3C3C"/><rect x="301" y="269" width="1" height="5" fill="#3C3C3C"/><rect x="301" y="289" width="1" height="25" fill="#3C3C3C"/><rect x="300" y="274" width="3" height="15" fill="#3C3C3C"/><rect x="305" y="275" width="1" height="4" fill="#00AEDD"/><rect x="305" y="289" width="1" height="17" fill="#00AEDD"/><rect x="304" y="279" width="3" height="10" fill="#00AEDD"/><rect x="305" y="280" width="1" height="8" fill="#fff"/><rect x="309" y="269" width="1" height="6" fill="#00AEDD"/><rect x="309" y="280" width="1" height="1" fill="#00AEDD"/><rect x="308" y="275" width="3" height="5" fill="#00AEDD"/><rect x="309" y="276" width="1" height="3" fill="#fff"/><rect x="313" y="274" width="1" height="1" fill="#3C3C3C"/><rect x="313" y="285" width="1" height="1" fill="#3C3C3C"/><rect x="312" y="275" width="3" height="10" fill="#3C3C3C"/><rect x="317" y="297" width="1" height="5" fill="#3C3C3C"/><rect x="316" y="283" width="3" height="14" fill="#3C3C3C"/><rect x="321" y="290" width="1" height="5" fill="#3C3C3C"/><rect x="321" y="308" width="1" height="1" fill="#3C3C3C"/><rect x="320" y="295" width="3" height="13" fill="#3C3C3C"/><rect x="325" y="300" width="1" height="7" fill="#3C3C3C"/><rect x="325" y="336" width="1" height="22" fill="#3C3C3C"/><rect x="324" y="307" width="3" height="29" fill="#3C3C3C"/><rect x="329" y="334" width="1" height="7" fill="#3C3C3C"/><rect x="329" y="355" width="1" height="2" fill="#3C3C3C"/><rect x="328" y="341" width="3" height="14" fill="#3C3C3C"/><rect x="333" y="346" width="1" height="8" fill="#3C3C3C"/><rect x="333" y="358" width="1" height="5" fill="#3C3C3C"/><rect x="332" y="354" width="3" height="4" fill="#3C3C3C"/><rect x="337" y="344" width="1" height="3" fill="#00AEDD"/><rect x="336" y="347" width="3" height="12" fill="#00AEDD"/><rect x="337" y="348" width="1" height="10" fill="#fff"/><rect x="341" y="330" width="1" height="4" fill="#00AEDD"/><rect x="341" y="344" width="1" height="1" fill="#00AEDD"/><rect x="340" y="334" width="3" height="10" fill="#00AEDD"/><rect x="341" y="335" width="1" height="8" fill="#fff"/><rect x="345" y="306" width="1" height="10" fill="#00AEDD"/><rect x="345" y="335" width="1" height="1" fill="#00AEDD"/><rect x="344" y="316" width="3" height="19" fill="#00AEDD"/><rect x="345" y="317" width="1" height="17" fill="#fff"/><rect x="349" y="306" width="1" height="6" fill="#00AEDD"/><rect x="349" y="317" width="1" height="1" fill="#00AEDD"/><rect x="348" y="312" width="3" height="5" fill="#00AEDD"/><rect x="349" y="313" width="1" height="3" fill="#fff"/><rect x="353" y="308" width="1" height="3" fill="#3C3C3C"/><rect x="353" y="326" width="1" height="2" fill="#3C3C3C"/><rect x="352" y="311" width="3" height="15" fill="#3C3C3C"/><rect x="357" y="318" width="1" height="6" fill="#3C3C3C"/><rect x="357" y="328" width="1" height="1" fill="#3C3C3C"/><rect x="356" y="324" width="3" height="4" fill="#3C3C3C"/><rect x="361" y="308" width="1" height="20" fill="#3C3C3C"/><rect x="361" y="337" width="1" height="8" fill="#3C3C3C"/><rect x="360" y="328" width="3" height="9" fill="#3C3C3C"/><rect x="365" y="261" width="1" height="7" fill="#00AEDD"/><rect x="365" y="337" width="1" height="1" fill="#00AEDD"/><rect x="364" y="268" width="3" height="69" fill="#00AEDD"/><rect x="365" y="269" width="1" height="67" fill="#fff"/><rect x="369" y="243" width="1" height="15" fill="#00AEDD"/><rect x="369" y="269" width="1" height="5" fill="#00AEDD"/><rect x="368" y="258" width="3" height="11" fill="#00AEDD"/><rect x="369" y="259" width="1" height="9" fill="#fff"/><rect x="373" y="256" width="1" height="1" fill="#3C3C3C"/><rect x="373" y="305" width="1" height="4" fill="#3C3C3C"/><rect x="372" y="257" width="3" height="48" fill="#3C3C3C"/><rect x="377" y="266" width="1" height="10" fill="#00AEDD"/><rect x="377" y="305" width="1" height="1" fill="#00AEDD"/><rect x="376" y="276" width="3" height="29" fill="#00AEDD"/><rect x="377" y="277" width="1" height="27" fill="#fff"/><rect x="381" y="266" width="1" height="9" fill="#3C3C3C"/><rect x="381" y="284" width="1" height="6" fill="#3C3C3C"/><rect x="380" y="275" width="3" height="9" fill="#3C3C3C"/><rect x="385" y="276" width="1" height="7" fill="#3C3C3C"/><rect x="385" y="308" width="1" height="28" fill="#3C3C3C"/><rect x="384" y="283" width="3" height="25" fill="#3C3C3C"/><rect x="389" y="301" width="1" height="5" fill="#3C3C3C"/><rect x="389" y="327" width="1" height="5" fill="#3C3C3C"/><rect x="388" y="306" width="3" height="21" fill="#3C3C3C"/><rect x="393" y="288" width="1" height="12" fill="#00AEDD"/><rect x="393" y="325" width="1" height="1" fill="#00AEDD"/><rect x="392" y="300" width="3" height="25" fill="#00AEDD"/><rect x="393" y="301" width="1" height="23" fill="#fff"/><rect x="397" y="278" width="1" height="9" fill="#00AEDD"/><rect x="397" y="302" width="1" height="7" fill="#00AEDD"/><rect x="396" y="287" width="3" height="15" fill="#00AEDD"/><rect x="397" y="288" width="1" height="13" fill="#fff"/><rect x="401" y="283" width="1" height="4" fill="#3C3C3C"/><rect x="401" y="299" width="1" height="6" fill="#3C3C3C"/><rect x="400" y="287" width="3" height="12" fill="#3C3C3C"/><rect x="405" y="290" width="1" height="3" fill="#00AEDD"/><rect x="405" y="299" width="1" height="5" fill="#00AEDD"/><rect x="404" y="293" width="3" height="6" fill="#00AEDD"/><rect x="405" y="294" width="1" height="4" fill="#fff"/><rect x="409" y="291" width="1" height="2" fill="#3C3C3C"/><rect x="409" y="304" width="1" height="10" fill="#3C3C3C"/><rect x="408" y="293" width="3" height="11" fill="#3C3C3C"/><rect x="413" y="296" width="1" height="5" fill="#3C3C3C"/><rect x="413" y="309" width="1" height="1" fill="#3C3C3C"/><rect x="412" y="301" width="3" height="8" fill="#3C3C3C"/><rect x="417" y="305" width="1" height="1" fill="#3C3C3C"/><rect x="417" y="311" width="1" height="11" fill="#3C3C3C"/><rect x="416" y="306" width="3" height="5" fill="#3C3C3C"/><rect x="421" y="292" width="1" height="2" fill="#00AEDD"/><rect x="421" y="311" width="1" height="1" fill="#00AEDD"/><rect x="420" y="294" width="3" height="17" fill="#00AEDD"/><rect x="421" y="295" width="1" height="15" fill="#fff"/><rect x="425" y="293" width="1" height="1" fill="#3C3C3C"/><rect x="424" y="294" width="3" height="9" fill="#3C3C3C"/><rect x="429" y="311" width="1" height="4" fill="#3C3C3C"/><rect x="428" y="301" width="3" height="10" fill="#3C3C3C"/><rect x="433" y="302" width="1" height="8" fill="#3C3C3C"/><rect x="433" y="323" width="1" height="6" fill="#3C3C3C"/><rect x="432" y="310" width="3" height="13" fill="#3C3C3C"/><rect x="437" y="312" width="1" height="7" fill="#3C3C3C"/><rect x="437" y="328" width="1" height="2" fill="#3C3C3C"/><rect x="436" y="319" width="3" height="9" fill="#3C3C3C"/><rect x="441" y="322" width="1" height="2" fill="#00AEDD"/><rect x="441" y="329" width="1" height="5" fill="#00AEDD"/><rect x="440" y="324" width="3" height="5" fill="#00AEDD"/><rect x="441" y="325" width="1" height="3" fill="#fff"/><rect x="445" y="319" width="1" height="5" fill="#3C3C3C"/><rect x="445" y="328" width="1" height="3" fill="#3C3C3C"/><rect x="444" y="324" width="3" height="4" fill="#3C3C3C"/><rect x="449" y="315" width="1" height="3" fill="#00AEDD"/><rect x="449" y="328" width="1" height="7" fill="#00AEDD"/><rect x="448" y="318" width="3" height="10" fill="#00AEDD"/><rect x="449" y="319" width="1" height="8" fill="#fff"/><rect x="453" y="303" width="1" height="6" fill="#00AEDD"/><rect x="453" y="319" width="1" height="1" fill="#00AEDD"/><rect x="452" y="309" width="3" height="10" fill="#00AEDD"/><rect x="453" y="310" width="1" height="8" fill="#fff"/><rect x="457" y="270" width="1" height="13" fill="#00AEDD"/><rect x="457" y="310" width="1" height="1" fill="#00AEDD"/><rect x="456" y="283" width="3" height="27" fill="#00AEDD"/><rect x="457" y="284" width="1" height="25" fill="#fff"/><rect x="461" y="276" width="1" height="6" fill="#3C3C3C"/><rect x="461" y="286" width="1" height="41" fill="#3C3C3C"/><rect x="460" y="282" width="3" height="4" fill="#3C3C3C"/><rect x="465" y="282" width="1" height="2" fill="#3C3C3C"/><rect x="465" y="305" width="1" height="3" fill="#3C3C3C"/><rect x="464" y="284" width="3" height="21" fill="#3C3C3C"/><rect x="469" y="301" width="1" height="2" fill="#3C3C3C"/><rect x="469" y="310" width="1" height="10" fill="#3C3C3C"/><rect x="468" y="303" width="3" height="7" fill="#3C3C3C"/><rect x="473" y="294" width="1" height="2" fill="#00AEDD"/><rect x="473" y="310" width="1" height="6" fill="#00AEDD"/><rect x="472" y="296" width="3" height="14" fill="#00AEDD"/><rect x="473" y="297" width="1" height="12" fill="#fff"/><rect x="477" y="289" width="1" height="8" fill="#3C3C3C"/><rect x="477" y="300" width="1" height="5" fill="#3C3C3C"/><rect x="476" y="297" width="3" height="3" fill="#3C3C3C"/><rect x="481" y="289" width="1" height="8" fill="#3C3C3C"/><rect x="481" y="300" width="1" height="16" fill="#3C3C3C"/><rect x="480" y="297" width="3" height="3" fill="#3C3C3C"/><rect x="485" y="271" width="1" height="21" fill="#00AEDD"/><rect x="485" y="301" width="1" height="2" fill="#00AEDD"/><rect x="484" y="292" width="3" height="9" fill="#00AEDD"/><rect x="485" y="293" width="1" height="7" fill="#fff"/><rect x="489" y="316" width="1" height="11" fill="#3C3C3C"/><rect x="488" y="291" width="3" height="25" fill="#3C3C3C"/><rect x="493" y="303" width="1" height="8" fill="#00AEDD"/><rect x="493" y="316" width="1" height="5" fill="#00AEDD"/><rect x="492" y="311" width="3" height="5" fill="#00AEDD"/><rect x="493" y="312" width="1" height="3" fill="#fff"/><rect x="497" y="307" width="1" height="5" fill="#3C3C3C"/><rect x="497" y="316" width="1" height="3" fill="#3C3C3C"/><rect x="496" y="312" width="3" height="4" fill="#3C3C3C"/><rect x="501" y="305" width="1" height="4" fill="#00AEDD"/><rect x="501" y="314" width="1" height="2" fill="#00AEDD"/><rect x="500" y="309" width="3" height="5" fill="#00AEDD"/><rect x="501" y="310" width="1" height="3" fill="#fff"/><rect x="505" y="306" width="1" height="3" fill="#3C3C3C"/><rect x="505" y="315" width="1" height="10" fill="#3C3C3C"/><rect x="504" y="309" width="3" height="6" fill="#3C3C3C"/><rect x="509" y="308" width="1" height="6" fill="#3C3C3C"/><rect x="509" y="320" width="1" height="1" fill="#3C3C3C"/><rect x="508" y="314" width="3" height="6" fill="#3C3C3C"/><rect x="513" y="320" width="1" height="5" fill="#3C3C3C"/><rect x="512" y="315" width="3" height="5" fill="#3C3C3C"/><rect x="517" y="311" width="1" height="8" fill="#3C3C3C"/><rect x="517" y="321" width="1" height="3" fill="#3C3C3C"/><rect x="516" y="319" width="3" height="2" fill="#3C3C3C"/><rect x="521" y="300" width="1" height="2" fill="#00AEDD"/><rect x="521" y="321" width="1" height="5" fill="#00AEDD"/><rect x="520" y="302" width="3" height="19" fill="#00AEDD"/><rect x="521" y="303" width="1" height="17" fill="#fff"/><rect x="525" y="292" width="1" height="10" fill="#3C3C3C"/><rect x="525" y="308" width="1" height="8" fill="#3C3C3C"/><rect x="524" y="302" width="3" height="6" fill="#3C3C3C"/><rect x="529" y="296" width="1" height="7" fill="#00AEDD"/><rect x="529" y="308" width="1" height="7" fill="#00AEDD"/><rect x="528" y="303" width="3" height="5" fill="#00AEDD"/><rect x="529" y="304" width="1" height="3" fill="#fff"/><rect x="533" y="297" width="1" height="3" fill="#00AEDD"/><rect x="533" y="305" width="1" height="5" fill="#00AEDD"/><rect x="532" y="300" width="3" height="5" fill="#00AEDD"/><rect x="533" y="301" width="1" height="3" fill="#fff"/><rect x="537" y="298" width="1" height="1" fill="#3C3C3C"/><rect x="537" y="306" width="1" height="2" fill="#3C3C3C"/><rect x="536" y="299" width="3" height="7" fill="#3C3C3C"/><rect x="541" y="294" width="1" height="1" fill="#00AEDD"/><rect x="540" y="295" width="3" height="11" fill="#00AEDD"/><rect x="541" y="296" width="1" height="9" fill="#fff"/><rect x="545" y="285" width="1" height="11" fill="#3C3C3C"/><rect x="545" y="303" width="1" height="2" fill="#3C3C3C"/><rect x="544" y="296" width="3" height="7" fill="#3C3C3C"/><rect x="549" y="250" width="1" height="11" fill="#00AEDD"/><rect x="549" y="303" width="1" height="1" fill="#00AEDD"/><rect x="548" y="261" width="3" height="42" fill="#00AEDD"/><rect x="549" y="262" width="1" height="40" fill="#fff"/><rect x="553" y="239" width="1" height="22" fill="#3C3C3C"/><rect x="553" y="304" width="1" height="17" fill="#3C3C3C"/><rect x="552" y="261" width="3" height="43" fill="#3C3C3C"/><rect x="557" y="284" width="1" height="1" fill="#00AEDD"/><rect x="557" y="303" width="1" height="13" fill="#00AEDD"/><rect x="556" y="285" width="3" height="18" fill="#00AEDD"/><rect x="557" y="286" width="1" height="16" fill="#fff"/><rect x="561" y="272" width="1" height="13" fill="#3C3C3C"/><rect x="561" y="289" width="1" height="14" fill="#3C3C3C"/><rect x="560" y="285" width="3" height="4" fill="#3C3C3C"/><rect x="565" y="282" width="1" height="4" fill="#3C3C3C"/><rect x="565" y="291" width="1" height="7" fill="#3C3C3C"/><rect x="564" y="286" width="3" height="5" fill="#3C3C3C"/><rect x="569" y="287" width="1" height="3" fill="#3C3C3C"/><rect x="569" y="304" width="1" height="7" fill="#3C3C3C"/><rect x="568" y="290" width="3" height="14" fill="#3C3C3C"/><rect x="573" y="299" width="1" height="3" fill="#3C3C3C"/><rect x="573" y="309" width="1" height="29" fill="#3C3C3C"/><rect x="572" y="302" width="3" height="7" fill="#3C3C3C"/><rect x="577" y="282" width="1" height="8" fill="#00AEDD"/><rect x="577" y="309" width="1" height="22" fill="#00AEDD"/><rect x="576" y="290" width="3" height="19" fill="#00AEDD"/><rect x="577" y="291" width="1" height="17" fill="#fff"/><rect x="581" y="278" width="1" height="6" fill="#00AEDD"/><rect x="581" y="290" width="1" height="5" fill="#00AEDD"/><rect x="580" y="284" width="3" height="6" fill="#00AEDD"/><rect x="581" y="285" width="1" height="4" fill="#fff"/><rect x="585" y="278" width="1" height="1" fill="#3C3C3C"/><rect x="585" y="288" width="1" height="2" fill="#3C3C3C"/><rect x="584" y="279" width="3" height="9" fill="#3C3C3C"/><rect x="589" y="281" width="1" height="2" fill="#00AEDD"/><rect x="589" y="289" width="1" height="9" fill="#00AEDD"/><rect x="588" y="283" width="3" height="6" fill="#00AEDD"/><rect x="589" y="284" width="1" height="4" fill="#fff"/><rect x="593" y="283" width="1" height="2" fill="#3C3C3C"/><rect x="593" y="288" width="1" height="1" fill="#3C3C3C"/><rect x="592" y="285" width="3" height="3" fill="#3C3C3C"/><rect x="597" y="279" width="1" height="4" fill="#00AEDD"/><rect x="597" y="288" width="1" height="5" fill="#00AEDD"/><rect x="596" y="283" width="3" height="5" fill="#00AEDD"/><rect x="597" y="284" width="1" height="3" fill="#fff"/><rect x="601" y="284" width="1" height="7" fill="#00AEDD"/><rect x="600" y="278" width="3" height="6" fill="#00AEDD"/><rect x="601" y="279" width="1" height="4" fill="#fff"/><rect x="605" y="257" width="1" height="7" fill="#00AEDD"/><rect x="604" y="264" width="3" height="15" fill="#00AEDD"/><rect x="605" y="265" width="1" height="13" fill="#fff"/><rect x="609" y="255" width="1" height="2" fill="#00AEDD"/><rect x="609" y="265" width="1" height="4" fill="#00AEDD"/><rect x="608" y="257" width="3" height="8" fill="#00AEDD"/><rect x="609" y="258" width="1" height="6" fill="#fff"/><rect x="613" y="251" width="1" height="3" fill="#00AEDD"/><rect x="613" y="259" width="1" height="2" fill="#00AEDD"/><rect x="612" y="254" width="3" height="5" fill="#00AEDD"/><rect x="613" y="255" width="1" height="3" fill="#fff"/><rect x="617" y="251" width="1" height="3" fill="#3C3C3C"/><rect x="617" y="257" width="1" height="5" fill="#3C3C3C"/><rect x="616" y="254" width="3" height="3" fill="#3C3C3C"/><rect x="621" y="249" width="1" height="1" fill="#00AEDD"/><rect x="621" y="257" width="1" height="4" fill="#00AEDD"/><rect x="620" y="250" width="3" height="7" fill="#00AEDD"/><rect x="621" y="251" width="1" height="5" fill="#fff"/><rect x="625" y="244" width="1" height="2" fill="#00AEDD"/><rect x="625" y="252" width="1" height="2" fill="#00AEDD"/><rect x="624" y="246" width="3" height="6" fill="#00AEDD"/><rect x="625" y="247" width="1" height="4" fill="#fff"/><rect x="629" y="245" width="1" height="1" fill="#3C3C3C"/><rect x="628" y="246" width="3" height="5" fill="#3C3C3C"/><rect x="633" y="243" width="1" height="6" fill="#3C3C3C"/><rect x="632" y="249" width="3" height="3" fill="#3C3C3C"/><rect x="637" y="216" width="1" height="6" fill="#00AEDD"/><rect x="637" y="251" width="1" height="1" fill="#00AEDD"/><rect x="636" y="222" width="3" height="29" fill="#00AEDD"/><rect x="637" y="223" width="1" height="27" fill="#fff"/><rect x="641" y="188" width="1" height="35" fill="#3C3C3C"/><rect x="641" y="250" width="1" height="9" fill="#3C3C3C"/><rect x="640" y="223" width="3" height="27" fill="#3C3C3C"/><rect x="645" y="237" width="1" height="3" fill="#00AEDD"/><rect x="645" y="248" width="1" height="6" fill="#00AEDD"/><rect x="644" y="240" width="3" height="8" fill="#00AEDD"/><rect x="645" y="241" width="1" height="6" fill="#fff"/><rect x="649" y="219" width="1" height="11" fill="#00AEDD"/><rect x="649" y="241" width="1" height="3" fill="#00AEDD"/><rect x="648" y="230" width="3" height="11" fill="#00AEDD"/><rect x="649" y="231" width="1" height="9" fill="#fff"/><rect x="653" y="215" width="1" height="14" fill="#00AEDD"/><rect x="653" y="233" width="1" height="10" fill="#00AEDD"/><rect x="652" y="229" width="3" height="4" fill="#00AEDD"/><rect x="653" y="230" width="1" height="2" fill="#fff"/><rect x="657" y="224" width="1" height="5" fill="#00AEDD"/><rect x="657" y="232" width="1" height="12" fill="#00AEDD"/><rect x="656" y="229" width="3" height="3" fill="#00AEDD"/><rect x="657" y="230" width="1" height="1" fill="#fff"/><rect x="661" y="198" width="1" height="1" fill="#00AEDD"/><rect x="661" y="230" width="1" height="6" fill="#00AEDD"/><rect x="660" y="199" width="3" height="31" fill="#00AEDD"/><rect x="661" y="200" width="1" height="29" fill="#fff"/><rect x="665" y="193" width="1" height="2" fill="#00AEDD"/><rect x="665" y="211" width="1" height="1" fill="#00AEDD"/><rect x="664" y="195" width="3" height="16" fill="#00AEDD"/><rect x="665" y="196" width="1" height="14" fill="#fff"/><rect x="669" y="130" width="1" height="35" fill="#00AEDD"/><rect x="669" y="197" width="1" height="2" fill="#00AEDD"/><rect x="668" y="165" width="3" height="32" fill="#00AEDD"/><rect x="669" y="166" width="1" height="30" fill="#fff"/><rect x="673" y="145" width="1" height="6" fill="#00AEDD"/><rect x="673" y="166" width="1" height="13" fill="#00AEDD"/><rect x="672" y="151" width="3" height="15" fill="#00AEDD"/><rect x="673" y="152" width="1" height="13" fill="#fff"/><rect x="677" y="153" width="1" height="9" fill="#00AEDD"/><rect x="676" y="147" width="3" height="6" fill="#00AEDD"/><rect x="677" y="148" width="1" height="4" fill="#fff"/><rect x="681" y="152" width="1" height="4" fill="#3C3C3C"/><rect x="680" y="147" width="3" height="5" fill="#3C3C3C"/><rect x="685" y="141" width="1" height="3" fill="#00AEDD"/><rect x="685" y="151" width="1" height="1" fill="#00AEDD"/><rect x="684" y="144" width="3" height="7" fill="#00AEDD"/><rect x="685" y="145" width="1" height="5" fill="#fff"/><rect x="689" y="137" width="1" height="8" fill="#3C3C3C"/><rect x="689" y="148" width="1" height="1" fill="#3C3C3C"/><rect x="688" y="145" width="3" height="3" fill="#3C3C3C"/><rect x="693" y="134" width="1" height="1" fill="#00AEDD"/><rect x="693" y="146" width="1" height="8" fill="#00AEDD"/><rect x="692" y="135" width="3" height="11" fill="#00AEDD"/><rect x="693" y="136" width="1" height="9" fill="#fff"/><rect x="697" y="123" width="1" height="5" fill="#00AEDD"/><rect x="697" y="140" width="1" height="1" fill="#00AEDD"/><rect x="696" y="128" width="3" height="12" fill="#00AEDD"/><rect x="697" y="129" width="1" height="10" fill="#fff"/><rect x="701" y="121" width="1" height="4" fill="#00AEDD"/><rect x="701" y="130" width="1" height="2" fill="#00AEDD"/><rect x="700" y="125" width="3" height="5" fill="#00AEDD"/><rect x="701" y="126" width="1" height="3" fill="#fff"/><rect x="705" y="114" width="1" height="4" fill="#00AEDD"/><rect x="705" y="127" width="1" height="2" fill="#00AEDD"/><rect x="704" y="118" width="3" height="9" fill="#00AEDD"/><rect x="705" y="119" width="1" height="7" fill="#fff"/><rect x="709" y="101" width="1" height="5" fill="#00AEDD"/><rect x="708" y="106" width="3" height="13" fill="#00AEDD"/><rect x="709" y="107" width="1" height="11" fill="#fff"/><rect x="713" y="105" width="1" height="1" fill="#3C3C3C"/><rect x="713" y="120" width="1" height="1" fill="#3C3C3C"/><rect x="712" y="106" width="3" height="14" fill="#3C3C3C"/><rect x="717" y="115" width="1" height="3" fill="#3C3C3C"/><rect x="717" y="121" width="1" height="2" fill="#3C3C3C"/><rect x="716" y="118" width="3" height="3" fill="#3C3C3C"/><rect x="721" y="119" width="1" height="1" fill="#3C3C3C"/><rect x="721" y="127" width="1" height="2" fill="#3C3C3C"/><rect x="720" y="120" width="3" height="7" fill="#3C3C3C"/><rect x="725" y="120" width="1" height="5" fill="#3C3C3C"/><rect x="725" y="141" width="1" height="2" fill="#3C3C3C"/><rect x="724" y="125" width="3" height="16" fill="#3C3C3C"/><rect x="729" y="141" width="1" height="8" fill="#00AEDD"/><rect x="728" y="116" width="3" height="25" fill="#00AEDD"/><rect x="729" y="117" width="1" height="23" fill="#fff"/><rect x="733" y="99" width="1" height="18" fill="#3C3C3C"/><rect x="733" y="136" width="1" height="6" fill="#3C3C3C"/><rect x="732" y="117" width="3" height="19" fill="#3C3C3C"/><rect x="737" y="130" width="1" height="5" fill="#3C3C3C"/><rect x="737" y="156" width="1" height="5" fill="#3C3C3C"/><rect x="736" y="135" width="3" height="21" fill="#3C3C3C"/><rect x="741" y="123" width="1" height="13" fill="#00AEDD"/><rect x="741" y="156" width="1" height="1" fill="#00AEDD"/><rect x="740" y="136" width="3" height="20" fill="#00AEDD"/><rect x="741" y="137" width="1" height="18" fill="#fff"/><rect x="745" y="131" width="1" height="2" fill="#00AEDD"/><rect x="745" y="138" width="1" height="13" fill="#00AEDD"/><rect x="744" y="133" width="3" height="5" fill="#00AEDD"/><rect x="745" y="134" width="1" height="3" fill="#fff"/><rect x="749" y="138" width="1" height="11" fill="#3C3C3C"/><rect x="748" y="134" width="3" height="4" fill="#3C3C3C"/><rect x="753" y="119" width="1" height="13" fill="#00AEDD"/><rect x="753" y="139" width="1" height="1" fill="#00AEDD"/><rect x="752" y="132" width="3" height="7" fill="#00AEDD"/><rect x="753" y="133" width="1" height="5" fill="#fff"/><rect x="757" y="123" width="1" height="10" fill="#3C3C3C"/><rect x="757" y="144" width="1" height="10" fill="#3C3C3C"/><rect x="756" y="133" width="3" height="11" fill="#3C3C3C"/><rect x="761" y="134" width="1" height="7" fill="#00AEDD"/><rect x="761" y="145" width="1" height="13" fill="#00AEDD"/><rect x="760" y="141" width="3" height="4" fill="#00AEDD"/><rect x="761" y="142" width="1" height="2" fill="#fff"/><rect x="765" y="138" width="1" height="3" fill="#3C3C3C"/><rect x="765" y="170" width="1" height="7" fill="#3C3C3C"/><rect x="764" y="141" width="3" height="29" fill="#3C3C3C"/><rect x="769" y="159" width="1" height="3" fill="#00AEDD"/><rect x="769" y="171" width="1" height="1" fill="#00AEDD"/><rect x="768" y="162" width="3" height="9" fill="#00AEDD"/><rect x="769" y="163" width="1" height="7" fill="#fff"/><rect x="773" y="157" width="1" height="2" fill="#00AEDD"/><rect x="773" y="164" width="1" height="3" fill="#00AEDD"/><rect x="772" y="159" width="3" height="5" fill="#00AEDD"/><rect x="773" y="160" width="1" height="3" fill="#fff"/><rect x="777" y="161" width="1" height="2" fill="#00AEDD"/><rect x="776" y="156" width="3" height="5" fill="#00AEDD"/><rect x="777" y="157" width="1" height="3" fill="#fff"/><rect x="781" y="154" width="1" height="2" fill="#3C3C3C"/><rect x="781" y="158" width="1" height="8" fill="#3C3C3C"/><rect x="780" y="156" width="3" height="2" fill="#3C3C3C"/><rect x="785" y="150" width="1" height="6" fill="#3C3C3C"/><rect x="785" y="161" width="1" height="5" fill="#3C3C3C"/><rect x="784" y="156" width="3" height="5" fill="#3C3C3C"/><rect x="789" y="146" width="1" height="2" fill="#00AEDD"/><rect x="788" y="148" width="3" height="10" fill="#00AEDD"/><rect x="789" y="149" width="1" height="8" fill="#fff"/><rect x="793" y="152" width="1" height="2" fill="#3C3C3C"/><rect x="792" y="148" width="3" height="4" fill="#3C3C3C"/><rect x="797" y="141" width="1" height="4" fill="#00AEDD"/><rect x="796" y="145" width="3" height="7" fill="#00AEDD"/><rect x="797" y="146" width="1" height="5" fill="#fff"/><rect x="801" y="140" width="1" height="4" fill="#3C3C3C"/><rect x="801" y="146" width="1" height="6" fill="#3C3C3C"/><rect x="800" y="144" width="3" height="2" fill="#3C3C3C"/><rect x="805" y="131" width="1" height="3" fill="#00AEDD"/><rect x="805" y="147" width="1" height="2" fill="#00AEDD"/><rect x="804" y="134" width="3" height="13" fill="#00AEDD"/><rect x="805" y="135" width="1" height="11" fill="#fff"/><rect x="809" y="141" width="1" height="4" fill="#3C3C3C"/><rect x="808" y="134" width="3" height="7" fill="#3C3C3C"/><rect x="813" y="137" width="1" height="3" fill="#00AEDD"/><rect x="813" y="142" width="1" height="2" fill="#00AEDD"/><rect x="812" y="140" width="3" height="2" fill="#00AEDD"/><rect x="817" y="135" width="1" height="4" fill="#3C3C3C"/><rect x="817" y="146" width="1" height="3" fill="#3C3C3C"/><rect x="816" y="139" width="3" height="7" fill="#3C3C3C"/><rect x="821" y="132" width="1" height="11" fill="#00AEDD"/><rect x="821" y="147" width="1" height="2" fill="#00AEDD"/><rect x="820" y="143" width="3" height="4" fill="#00AEDD"/><rect x="821" y="144" width="1" height="2" fill="#fff"/><rect x="825" y="128" width="1" height="15" fill="#3C3C3C"/><rect x="825" y="151" width="1" height="6" fill="#3C3C3C"/><rect x="824" y="143" width="3" height="8" fill="#3C3C3C"/><rect x="829" y="146" width="1" height="4" fill="#3C3C3C"/><rect x="829" y="170" width="1" height="2" fill="#3C3C3C"/><rect x="828" y="150" width="3" height="20" fill="#3C3C3C"/><rect x="833" y="156" width="1" height="11" fill="#3C3C3C"/><rect x="833" y="181" width="1" height="13" fill="#3C3C3C"/><rect x="832" y="167" width="3" height="14" fill="#3C3C3C"/><rect x="837" y="162" width="1" height="5" fill="#00AEDD"/><rect x="837" y="181" width="1" height="2" fill="#00AEDD"/><rect x="836" y="167" width="3" height="14" fill="#00AEDD"/><rect x="837" y="168" width="1" height="12" fill="#fff"/><rect x="841" y="146" width="1" height="2" fill="#00AEDD"/><rect x="841" y="169" width="1" height="1" fill="#00AEDD"/><rect x="840" y="148" width="3" height="21" fill="#00AEDD"/><rect x="841" y="149" width="1" height="19" fill="#fff"/><rect x="845" y="140" width="1" height="7" fill="#3C3C3C"/><rect x="845" y="160" width="1" height="3" fill="#3C3C3C"/><rect x="844" y="147" width="3" height="13" fill="#3C3C3C"/><rect x="849" y="153" width="1" height="5" fill="#00AEDD"/><rect x="849" y="161" width="1" height="12" fill="#00AEDD"/><rect x="848" y="158" width="3" height="3" fill="#00AEDD"/><rect x="849" y="159" width="1" height="1" fill="#fff"/><rect x="853" y="133" width="1" height="5" fill="#00AEDD"/><rect x="853" y="160" width="1" height="5" fill="#00AEDD"/><rect x="852" y="138" width="3" height="22" fill="#00AEDD"/><rect x="853" y="139" width="1" height="20" fill="#fff"/><rect x="857" y="125" width="1" height="1" fill="#00AEDD"/><rect x="857" y="140" width="1" height="4" fill="#00AEDD"/><rect x="856" y="126" width="3" height="14" fill="#00AEDD"/><rect x="857" y="127" width="1" height="12" fill="#fff"/><rect x="861" y="120" width="1" height="7" fill="#3C3C3C"/><rect x="861" y="131" width="1" height="3" fill="#3C3C3C"/><rect x="860" y="127" width="3" height="4" fill="#3C3C3C"/><rect x="865" y="128" width="1" height="1" fill="#3C3C3C"/><rect x="865" y="137" width="1" height="2" fill="#3C3C3C"/><rect x="864" y="129" width="3" height="8" fill="#3C3C3C"/><rect x="869" y="131" width="1" height="3" fill="#00AEDD"/><rect x="869" y="137" width="1" height="2" fill="#00AEDD"/><rect x="868" y="134" width="3" height="3" fill="#00AEDD"/><rect x="869" y="135" width="1" height="1" fill="#fff"/><rect x="873" y="135" width="1" height="1" fill="#00AEDD"/><rect x="872" y="124" width="3" height="11" fill="#00AEDD"/><rect x="873" y="125" width="1" height="9" fill="#fff"/><rect x="877" y="122" width="1" height="2" fill="#00AEDD"/><rect x="877" y="129" width="1" height="6" fill="#00AEDD"/><rect x="876" y="124" width="3" height="5" fill="#00AEDD"/><rect x="877" y="125" width="1" height="3" fill="#fff"/><rect x="881" y="116" width="1" height="5" fill="#3C3C3C"/><rect x="881" y="124" width="1" height="3" fill="#3C3C3C"/><rect x="880" y="121" width="3" height="3" fill="#3C3C3C"/><rect x="885" y="121" width="1" height="1" fill="#3C3C3C"/><rect x="884" y="122" width="3" height="8" fill="#3C3C3C"/><rect x="889" y="129" width="1" height="6" fill="#00AEDD"/><rect x="888" y="125" width="3" height="4" fill="#00AEDD"/><rect x="889" y="126" width="1" height="2" fill="#fff"/><rect x="893" y="123" width="1" height="2" fill="#3C3C3C"/><rect x="893" y="143" width="1" height="5" fill="#3C3C3C"/><rect x="892" y="125" width="3" height="18" fill="#3C3C3C"/><rect x="897" y="140" width="1" height="1" fill="#3C3C3C"/><rect x="897" y="146" width="1" height="2" fill="#3C3C3C"/><rect x="896" y="141" width="3" height="5" fill="#3C3C3C"/><rect x="901" y="141" width="1" height="4" fill="#3C3C3C"/><rect x="901" y="150" width="1" height="6" fill="#3C3C3C"/><rect x="900" y="145" width="3" height="5" fill="#3C3C3C"/><rect x="905" y="147" width="1" height="2" fill="#3C3C3C"/><rect x="905" y="152" width="1" height="2" fill="#3C3C3C"/><rect x="904" y="149" width="3" height="3" fill="#3C3C3C"/><rect x="909" y="147" width="1" height="2" fill="#00AEDD"/><rect x="909" y="152" width="1" height="9" fill="#00AEDD"/><rect x="908" y="149" width="3" height="3" fill="#00AEDD"/><rect x="909" y="150" width="1" height="1" fill="#fff"/><rect x="913" y="147" width="1" height="1" fill="#3C3C3C"/><rect x="913" y="164" width="1" height="4" fill="#3C3C3C"/><rect x="912" y="148" width="3" height="16" fill="#3C3C3C"/><rect x="917" y="154" width="1" height="8" fill="#3C3C3C"/><rect x="917" y="209" width="1" height="16" fill="#3C3C3C"/><rect x="916" y="162" width="3" height="47" fill="#3C3C3C"/><rect x="921" y="202" width="1" height="1" fill="#3C3C3C"/><rect x="921" y="273" width="1" height="14" fill="#3C3C3C"/><rect x="920" y="203" width="3" height="70" fill="#3C3C3C"/><rect x="925" y="235" width="1" height="11" fill="#00AEDD"/><rect x="925" y="273" width="1" height="7" fill="#00AEDD"/><rect x="924" y="246" width="3" height="27" fill="#00AEDD"/><rect x="925" y="247" width="1" height="25" fill="#fff"/><rect x="929" y="164" width="1" height="4" fill="#00AEDD"/><rect x="929" y="248" width="1" height="1" fill="#00AEDD"/><rect x="928" y="168" width="3" height="80" fill="#00AEDD"/><rect x="929" y="169" width="1" height="78" fill="#fff"/><rect x="933" y="159" width="1" height="10" fill="#3C3C3C"/><rect x="933" y="195" width="1" height="8" fill="#3C3C3C"/><rect x="932" y="169" width="3" height="26" fill="#3C3C3C"/><rect x="937" y="189" width="1" height="4" fill="#3C3C3C"/><rect x="937" y="219" width="1" height="7" fill="#3C3C3C"/><rect x="936" y="193" width="3" height="26" fill="#3C3C3C"/><rect x="941" y="178" width="1" height="9" fill="#00AEDD"/><rect x="941" y="218" width="1" height="6" fill="#00AEDD"/><rect x="940" y="187" width="3" height="31" fill="#00AEDD"/><rect x="941" y="188" width="1" height="29" fill="#fff"/><rect x="945" y="163" width="1" height="18" fill="#00AEDD"/><rect x="945" y="189" width="1" height="2" fill="#00AEDD"/><rect x="944" y="181" width="3" height="8" fill="#00AEDD"/><rect x="945" y="182" width="1" height="6" fill="#fff"/><rect x="949" y="168" width="1" height="13" fill="#3C3C3C"/><rect x="949" y="205" width="1" height="9" fill="#3C3C3C"/><rect x="948" y="181" width="3" height="24" fill="#3C3C3C"/><rect x="953" y="189" width="1" height="3" fill="#00AEDD"/><rect x="953" y="205" width="1" height="1" fill="#00AEDD"/><rect x="952" y="192" width="3" height="13" fill="#00AEDD"/><rect x="953" y="193" width="1" height="11" fill="#fff"/><rect x="957" y="179" width="1" height="7" fill="#00AEDD"/><rect x="957" y="195" width="1" height="1" fill="#00AEDD"/><rect x="956" y="186" width="3" height="9" fill="#00AEDD"/><rect x="957" y="187" width="1" height="7" fill="#fff"/><rect x="961" y="232" width="1" height="7" fill="#3C3C3C"/><rect x="960" y="186" width="3" height="46" fill="#3C3C3C"/><rect x="965" y="227" width="1" height="2" fill="#3C3C3C"/><rect x="965" y="240" width="1" height="6" fill="#3C3C3C"/><rect x="964" y="229" width="3" height="11" fill="#3C3C3C"/><rect x="969" y="228" width="1" height="11" fill="#3C3C3C"/><rect x="969" y="257" width="1" height="1" fill="#3C3C3C"/><rect x="968" y="239" width="3" height="18" fill="#3C3C3C"/><rect x="973" y="245" width="1" height="8" fill="#00AEDD"/><rect x="973" y="260" width="1" height="6" fill="#00AEDD"/><rect x="972" y="253" width="3" height="7" fill="#00AEDD"/><rect x="973" y="254" width="1" height="5" fill="#fff"/><rect x="977" y="247" width="1" height="7" fill="#3C3C3C"/><rect x="976" y="254" width="3" height="2" fill="#3C3C3C"/><rect x="981" y="240" width="1" height="3" fill="#00AEDD"/><rect x="981" y="256" width="1" height="6" fill="#00AEDD"/><rect x="980" y="243" width="3" height="13" fill="#00AEDD"/><rect x="981" y="244" width="1" height="11" fill="#fff"/><rect x="985" y="233" width="1" height="5" fill="#00AEDD"/><rect x="984" y="238" width="3" height="9" fill="#00AEDD"/><rect x="985" y="239" width="1" height="7" fill="#fff"/><rect x="989" y="245" width="1" height="4" fill="#3C3C3C"/><rect x="988" y="237" width="3" height="8" fill="#3C3C3C"/><rect x="993" y="230" width="1" height="4" fill="#00AEDD"/><rect x="993" y="243" width="1" height="3" fill="#00AEDD"/><rect x="992" y="234" width="3" height="9" fill="#00AEDD"/><rect x="993" y="235" width="1" height="7" fill="#fff"/><rect x="997" y="223" width="1" height="3" fill="#00AEDD"/><rect x="997" y="235" width="1" height="1" fill="#00AEDD"/><rect x="996" y="226" width="3" height="9" fill="#00AEDD"/><rect x="997" y="227" width="1" height="7" fill="#fff"/><rect x="1001" y="215" width="1" height="11" fill="#3C3C3C"/><rect x="1000" y="226" width="3" height="8" fill="#3C3C3C"/><rect x="1005" y="219" width="1" height="8" fill="#00AEDD"/><rect x="1005" y="234" width="1" height="3" fill="#00AEDD"/><rect x="1004" y="227" width="3" height="7" fill="#00AEDD"/><rect x="1005" y="228" width="1" height="5" fill="#fff"/><rect x="1009" y="314" width="1" height="3" fill="#3C3C3C"/><rect x="1008" y="226" width="3" height="88" fill="#3C3C3C"/><rect x="1013" y="287" width="1" height="20" fill="#00AEDD"/><rect x="1013" y="312" width="1" height="23" fill="#00AEDD"/><rect x="1012" y="307" width="3" height="5" fill="#00AEDD"/><rect x="1013" y="308" width="1" height="3" fill="#fff"/><rect x="1017" y="289" width="1" height="17" fill="#3C3C3C"/><rect x="1017" y="318" width="1" height="4" fill="#3C3C3C"/><rect x="1016" y="306" width="3" height="12" fill="#3C3C3C"/><rect x="1021" y="270" width="1" height="9" fill="#00AEDD"/><rect x="1021" y="318" width="1" height="6" fill="#00AEDD"/><rect x="1020" y="279" width="3" height="39" fill="#00AEDD"/><rect x="1021" y="280" width="1" height="37" fill="#fff"/><rect x="1025" y="272" width="1" height="7" fill="#3C3C3C"/><rect x="1024" y="279" width="3" height="8" fill="#3C3C3C"/><rect x="1029" y="272" width="1" height="13" fill="#3C3C3C"/><rect x="1029" y="299" width="1" height="2" fill="#3C3C3C"/><rect x="1028" y="285" width="3" height="14" fill="#3C3C3C"/><rect x="1033" y="283" width="1" height="14" fill="#3C3C3C"/><rect x="1033" y="299" width="1" height="16" fill="#3C3C3C"/><rect x="1032" y="297" width="3" height="2" fill="#3C3C3C"/><rect x="1037" y="268" width="1" height="29" fill="#3C3C3C"/><rect x="1037" y="308" width="1" height="7" fill="#3C3C3C"/><rect x="1036" y="297" width="3" height="11" fill="#3C3C3C"/><rect x="1041" y="298" width="1" height="8" fill="#3C3C3C"/><rect x="1041" y="346" width="1" height="5" fill="#3C3C3C"/><rect x="1040" y="306" width="3" height="40" fill="#3C3C3C"/><rect x="1045" y="340" width="1" height="5" fill="#3C3C3C"/><rect x="1045" y="355" width="1" height="6" fill="#3C3C3C"/><rect x="1044" y="345" width="3" height="10" fill="#3C3C3C"/><rect x="1049" y="332" width="1" height="7" fill="#00AEDD"/><rect x="1049" y="357" width="1" height="3" fill="#00AEDD"/><rect x="1048" y="339" width="3" height="18" fill="#00AEDD"/><rect x="1049" y="340" width="1" height="16" fill="#fff"/><rect x="1053" y="337" width="1" height="1" fill="#3C3C3C"/><rect x="1053" y="346" width="1" height="11" fill="#3C3C3C"/><rect x="1052" y="338" width="3" height="8" fill="#3C3C3C"/><rect x="1057" y="325" width="1" height="14" fill="#00AEDD"/><rect x="1057" y="344" width="1" height="4" fill="#00AEDD"/><rect x="1056" y="339" width="3" height="5" fill="#00AEDD"/><rect x="1057" y="340" width="1" height="3" fill="#fff"/><rect x="1061" y="316" width="1" height="3" fill="#00AEDD"/><rect x="1061" y="340" width="1" height="1" fill="#00AEDD"/><rect x="1060" y="319" width="3" height="21" fill="#00AEDD"/><rect x="1061" y="320" width="1" height="19" fill="#fff"/><rect x="1065" y="319" width="1" height="5" fill="#00AEDD"/><rect x="1065" y="331" width="1" height="4" fill="#00AEDD"/><rect x="1064" y="324" width="3" height="7" fill="#00AEDD"/><rect x="1065" y="325" width="1" height="5" fill="#fff"/><rect x="1069" y="315" width="1" height="5" fill="#00AEDD"/><rect x="1069" y="330" width="1" height="1" fill="#00AEDD"/><rect x="1068" y="320" width="3" height="10" fill="#00AEDD"/><rect x="1069" y="321" width="1" height="8" fill="#fff"/><rect x="1073" y="327" width="1" height="9" fill="#3C3C3C"/><rect x="1072" y="320" width="3" height="7" fill="#3C3C3C"/><rect x="1077" y="322" width="1" height="3" fill="#3C3C3C"/><rect x="1077" y="328" width="1" height="9" fill="#3C3C3C"/><rect x="1076" y="325" width="3" height="3" fill="#3C3C3C"/><rect x="1081" y="325" width="1" height="1" fill="#3C3C3C"/><rect x="1081" y="335" width="1" height="1" fill="#3C3C3C"/><rect x="1080" y="326" width="3" height="9" fill="#3C3C3C"/><rect x="1085" y="331" width="1" height="1" fill="#3C3C3C"/><rect x="1085" y="342" width="1" height="5" fill="#3C3C3C"/><rect x="1084" y="332" width="3" height="10" fill="#3C3C3C"/><rect x="1089" y="340" width="1" height="1" fill="#3C3C3C"/><rect x="1089" y="348" width="1" height="1" fill="#3C3C3C"/><rect x="1088" y="341" width="3" height="7" fill="#3C3C3C"/><rect x="1093" y="340" width="1" height="7" fill="#3C3C3C"/><rect x="1093" y="349" width="1" height="3" fill="#3C3C3C"/><rect x="1092" y="347" width="3" height="2" fill="#3C3C3C"/><rect x="1097" y="339" width="1" height="9" fill="#3C3C3C"/><rect x="1097" y="350" width="1" height="21" fill="#3C3C3C"/><rect x="1096" y="348" width="3" height="2" fill="#3C3C3C"/><rect x="1101" y="327" width="1" height="19" fill="#00AEDD"/><rect x="1101" y="351" width="1" height="19" fill="#00AEDD"/><rect x="1100" y="346" width="3" height="5" fill="#00AEDD"/><rect x="1101" y="347" width="1" height="3" fill="#fff"/><rect x="1105" y="320" width="1" height="26" fill="#3C3C3C"/><rect x="1105" y="348" width="1" height="6" fill="#3C3C3C"/><rect x="1104" y="346" width="3" height="2" fill="#3C3C3C"/><rect x="1109" y="342" width="1" height="4" fill="#3C3C3C"/><rect x="1109" y="352" width="1" height="7" fill="#3C3C3C"/><rect x="1108" y="346" width="3" height="6" fill="#3C3C3C"/><rect x="1113" y="324" width="1" height="6" fill="#00AEDD"/><rect x="1113" y="352" width="1" height="2" fill="#00AEDD"/><rect x="1112" y="330" width="3" height="22" fill="#00AEDD"/><rect x="1113" y="331" width="1" height="20" fill="#fff"/><rect x="1117" y="328" width="1" height="1" fill="#3C3C3C"/><rect x="1117" y="349" width="1" height="1" fill="#3C3C3C"/><rect x="1116" y="329" width="3" height="20" fill="#3C3C3C"/><rect x="1121" y="339" width="1" height="8" fill="#3C3C3C"/><rect x="1121" y="362" width="1" height="4" fill="#3C3C3C"/><rect x="1120" y="347" width="3" height="15" fill="#3C3C3C"/><rect x="1125" y="345" width="1" height="3" fill="#00AEDD"/><rect x="1125" y="362" width="1" height="16" fill="#00AEDD"/><rect x="1124" y="348" width="3" height="14" fill="#00AEDD"/><rect x="1125" y="349" width="1" height="12" fill="#fff"/><rect x="1129" y="334" width="1" height="13" fill="#00AEDD"/><rect x="1129" y="351" width="1" height="7" fill="#00AEDD"/><rect x="1128" y="347" width="3" height="4" fill="#00AEDD"/><rect x="1129" y="348" width="1" height="2" fill="#fff"/><rect x="1133" y="331" width="1" height="13" fill="#00AEDD"/><rect x="1133" y="348" width="1" height="1" fill="#00AEDD"/><rect x="1132" y="344" width="3" height="4" fill="#00AEDD"/><rect x="1133" y="345" width="1" height="2" fill="#fff"/><rect x="1137" y="340" width="1" height="3" fill="#00AEDD"/><rect x="1136" y="343" width="3" height="2" fill="#00AEDD"/><rect x="1141" y="338" width="1" height="2" fill="#00AEDD"/><rect x="1141" y="345" width="1" height="1" fill="#00AEDD"/><rect x="1140" y="340" width="3" height="5" fill="#00AEDD"/><rect x="1141" y="341" width="1" height="3" fill="#fff"/><rect x="1145" y="338" width="1" height="2" fill="#3C3C3C"/><rect x="1145" y="342" width="1" height="3" fill="#3C3C3C"/><rect x="1144" y="340" width="3" height="2" fill="#3C3C3C"/><rect x="1149" y="339" width="1" height="1" fill="#00AEDD"/><rect x="1149" y="343" width="1" height="3" fill="#00AEDD"/><rect x="1148" y="340" width="3" height="3" fill="#00AEDD"/><rect x="1149" y="341" width="1" height="1" fill="#fff"/><rect x="1153" y="337" width="1" height="4" fill="#3C3C3C"/><rect x="1152" y="341" width="3" height="5" fill="#3C3C3C"/><rect x="1157" y="341" width="1" height="2" fill="#3C3C3C"/><rect x="1157" y="352" width="1" height="1" fill="#3C3C3C"/><rect x="1156" y="343" width="3" height="9" fill="#3C3C3C"/><rect x="1161" y="354" width="1" height="16" fill="#3C3C3C"/><rect x="1160" y="351" width="3" height="3" fill="#3C3C3C"/><rect x="1165" y="345" width="1" height="6" fill="#00AEDD"/><rect x="1165" y="355" width="1" height="20" fill="#00AEDD"/><rect x="1164" y="351" width="3" height="4" fill="#00AEDD"/><rect x="1165" y="352" width="1" height="2" fill="#fff"/><rect x="1169" y="343" width="1" height="3" fill="#00AEDD"/><rect x="1169" y="352" width="1" height="4" fill="#00AEDD"/><rect x="1168" y="346" width="3" height="6" fill="#00AEDD"/><rect x="1169" y="347" width="1" height="4" fill="#fff"/><rect x="1173" y="354" width="1" height="1" fill="#3C3C3C"/><rect x="1172" y="345" width="3" height="9" fill="#3C3C3C"/><rect x="1177" y="342" width="1" height="1" fill="#00AEDD"/><rect x="1177" y="354" width="1" height="6" fill="#00AEDD"/><rect x="1176" y="343" width="3" height="11" fill="#00AEDD"/><rect x="1177" y="344" width="1" height="9" fill="#fff"/><rect x="1181" y="327" width="1" height="14" fill="#00AEDD"/><rect x="1181" y="345" width="1" height="1" fill="#00AEDD"/><rect x="1180" y="341" width="3" height="4" fill="#00AEDD"/><rect x="1181" y="342" width="1" height="2" fill="#fff"/><rect x="1185" y="287" width="1" height="7" fill="#00AEDD"/><rect x="1185" y="344" width="1" height="1" fill="#00AEDD"/><rect x="1184" y="294" width="3" height="50" fill="#00AEDD"/><rect x="1185" y="295" width="1" height="48" fill="#fff"/><rect x="1189" y="278" width="1" height="15" fill="#3C3C3C"/><rect x="1189" y="338" width="1" height="13" fill="#3C3C3C"/><rect x="1188" y="293" width="3" height="45" fill="#3C3C3C"/><rect x="1193" y="382" width="1" height="12" fill="#3C3C3C"/><rect x="1192" y="337" width="3" height="45" fill="#3C3C3C"/><rect x="1197" y="381" width="1" height="1" fill="#3C3C3C"/><rect x="1197" y="428" width="1" height="6" fill="#3C3C3C"/><rect x="1196" y="382" width="3" height="46" fill="#3C3C3C"/><rect x="1201" y="401" width="1" height="26" fill="#3C3C3C"/><rect x="1201" y="436" width="1" height="15" fill="#3C3C3C"/><rect x="1200" y="427" width="3" height="9" fill="#3C3C3C"/><rect x="1205" y="427" width="1" height="8" fill="#3C3C3C"/><rect x="1205" y="488" width="1" height="15" fill="#3C3C3C"/><rect x="1204" y="435" width="3" height="53" fill="#3C3C3C"/><rect x="1209" y="452" width="1" height="33" fill="#00AEDD"/><rect x="1209" y="488" width="1" height="13" fill="#00AEDD"/><rect x="1208" y="485" width="3" height="3" fill="#00AEDD"/><rect x="1209" y="486" width="1" height="1" fill="#fff"/><rect x="1213" y="467" width="1" height="5" fill="#00AEDD"/><rect x="1213" y="486" width="1" height="18" fill="#00AEDD"/><rect x="1212" y="472" width="3" height="14" fill="#00AEDD"/><rect x="1213" y="473" width="1" height="12" fill="#fff"/><rect x="1217" y="424" width="1" height="1" fill="#00AEDD"/><rect x="1216" y="425" width="3" height="47" fill="#00AEDD"/><rect x="1217" y="426" width="1" height="45" fill="#fff"/><rect x="1221" y="425" width="1" height="1" fill="#3C3C3C"/><rect x="1221" y="477" width="1" height="2" fill="#3C3C3C"/><rect x="1220" y="426" width="3" height="51" fill="#3C3C3C"/><rect x="1225" y="464" width="1" height="4" fill="#00AEDD"/><rect x="1225" y="477" width="1" height="8" fill="#00AEDD"/><rect x="1224" y="468" width="3" height="9" fill="#00AEDD"/><rect x="1225" y="469" width="1" height="7" fill="#fff"/><rect x="1229" y="453" width="1" height="2" fill="#00AEDD"/><rect x="1229" y="470" width="1" height="2" fill="#00AEDD"/><rect x="1228" y="455" width="3" height="15" fill="#00AEDD"/><rect x="1229" y="456" width="1" height="13" fill="#fff"/><rect x="1233" y="452" width="1" height="4" fill="#3C3C3C"/><rect x="1233" y="460" width="1" height="1" fill="#3C3C3C"/><rect x="1232" y="456" width="3" height="4" fill="#3C3C3C"/><rect x="1237" y="445" width="1" height="2" fill="#00AEDD"/><rect x="1237" y="460" width="1" height="2" fill="#00AEDD"/><rect x="1236" y="447" width="3" height="13" fill="#00AEDD"/><rect x="1237" y="448" width="1" height="11" fill="#fff"/><rect x="1241" y="440" width="1" height="8" fill="#3C3C3C"/><rect x="1241" y="451" width="1" height="2" fill="#3C3C3C"/><rect x="1240" y="448" width="3" height="3" fill="#3C3C3C"/><rect x="1245" y="454" width="1" height="1" fill="#3C3C3C"/><rect x="1244" y="444" width="3" height="10" fill="#3C3C3C"/><rect x="1249" y="450" width="1" height="2" fill="#3C3C3C"/><rect x="1249" y="454" width="1" height="6" fill="#3C3C3C"/><rect x="1248" y="452" width="3" height="2" fill="#3C3C3C"/><rect x="1253" y="455" width="1" height="10" fill="#3C3C3C"/><rect x="1252" y="453" width="3" height="2" fill="#3C3C3C"/><rect x="1257" y="437" width="1" height="16" fill="#3C3C3C"/><rect x="1257" y="455" width="1" height="5" fill="#3C3C3C"/><rect x="1256" y="453" width="3" height="2" fill="#3C3C3C"/><rect x="1261" y="447" width="1" height="7" fill="#3C3C3C"/><rect x="1261" y="457" width="1" height="4" fill="#3C3C3C"/><rect x="1260" y="454" width="3" height="3" fill="#3C3C3C"/><rect x="1265" y="453" width="1" height="1" fill="#00AEDD"/><rect x="1265" y="456" width="1" height="6" fill="#00AEDD"/><rect x="1264" y="454" width="3" height="2" fill="#00AEDD"/><rect x="1269" y="465" width="1" height="2" fill="#3C3C3C"/><rect x="1268" y="454" width="3" height="11" fill="#3C3C3C"/><rect x="1273" y="462" width="1" height="1" fill="#3C3C3C"/><rect x="1273" y="482" width="1" height="1" fill="#3C3C3C"/><rect x="1272" y="463" width="3" height="19" fill="#3C3C3C"/><rect x="1277" y="503" width="1" height="7" fill="#3C3C3C"/><rect x="1276" y="482" width="3" height="21" fill="#3C3C3C"/>
</svg>
<svg width="1593" height="725">

<g fill="#303030">
<path d="M45,54 H54.6 V87 Q54.6,101 41,101 H34 V92 H39.5 Q45,92 45,86 Z"/>
<path d="M62,54 H94 V62.6 H71.6 V73.6 H88 V81.2 H71.6 V101 H62 Z"/>
<path fill-rule="evenodd" d="M99.8,54 H115 Q137.5,54 137.5,77.5 Q137.5,101 115,101 H99.8 Z M108.4,63 V92.2 H115 Q128.5,92.2 128.5,77.5 Q128.5,63 115,63 Z"/>
<rect x="152" y="54" width="1" height="47" fill="#606060"/>
<rect x="150" y="70" width="5" height="15"/>
</g>


<path d="M1.0,394.4 C4.6,396.8 17.1,405.7 22.3,408.5 C27.5,411.3 25.8,409.3 32.0,411.0 C38.2,412.7 49.6,416.6 59.6,418.5 C69.6,420.4 84.4,421.3 91.8,422.7 C99.2,424.1 99.7,424.7 104.0,427.0 C108.3,429.3 113.6,434.5 117.9,436.3 C122.2,438.1 124.8,437.9 130.0,438.0 C135.2,438.1 140.9,437.1 149.0,436.8 C157.1,436.5 171.3,438.7 178.3,436.4 C185.3,434.1 185.8,427.8 190.8,423.1 C195.8,418.4 202.6,412.0 208.5,408.0 C214.4,404.0 220.6,401.5 226.0,399.2 C231.4,396.9 233.7,396.5 241.0,394.2 C248.3,391.9 263.9,388.0 270.0,385.4 C276.1,382.8 273.4,383.0 277.6,378.8 C281.8,374.6 289.1,365.5 295.3,360.0 C301.5,354.5 310.2,348.4 315.0,345.7 C319.8,343.0 321.1,344.1 324.0,344.0 C326.9,343.9 330.5,345.2 332.7,345.3 C334.9,345.4 332.4,345.5 337.2,344.6 C342.0,343.8 356.4,341.7 361.5,340.2 C366.6,338.7 364.3,337.7 368.0,335.8 C371.7,333.9 378.0,330.6 383.5,328.6 C389.0,326.6 394.4,325.2 401.0,323.7 C407.6,322.1 415.8,319.9 423.2,319.3 C430.6,318.8 437.5,320.9 445.3,320.4 C453.1,319.8 462.5,317.2 470.0,316.0 C477.5,314.8 480.9,313.8 490.3,313.3 C499.7,312.8 517.0,313.1 526.2,312.8 C535.4,312.5 540.4,312.2 545.5,311.4 C550.6,310.6 551.1,308.9 556.6,307.8 C562.1,306.7 571.2,305.6 578.6,304.5 C586.0,303.4 593.3,303.3 600.7,301.2 C608.1,299.1 613.6,296.1 622.8,292.0 C632.0,287.9 647.2,282.4 655.9,276.9 C664.5,271.3 667.4,265.7 674.7,258.7 C682.0,251.7 693.0,241.6 699.6,235.0 C706.2,228.4 709.9,223.8 714.4,219.0 C718.9,214.2 722.6,210.0 726.8,206.5 C730.9,203.0 735.6,200.4 739.3,197.9 C743.0,195.4 745.5,193.6 749.2,191.7 C752.9,189.8 755.0,188.1 761.6,186.2 C768.2,184.3 779.4,183.4 788.9,180.5 C798.4,177.6 809.2,170.9 818.7,168.8 C828.2,166.7 838.6,169.2 846.0,168.1 C853.4,166.9 856.3,164.2 863.3,161.9 C870.3,159.6 880.2,155.3 888.1,154.0 C896.0,152.7 905.6,153.4 910.5,154.0 C915.4,154.6 915.0,156.1 917.7,157.7 C920.4,159.3 923.2,162.2 926.5,163.8 C929.8,165.5 932.7,166.5 937.5,167.6 C942.3,168.7 950.4,168.8 955.2,170.5 C960.0,172.2 962.5,175.0 966.2,177.5 C969.9,180.0 972.9,182.7 977.3,185.3 C981.7,187.9 987.9,190.9 992.7,193.0 C997.5,195.1 1002.3,195.2 1006.0,197.8 C1009.7,200.4 1010.4,204.2 1014.8,208.4 C1019.2,212.6 1026.6,217.5 1032.5,222.8 C1038.4,228.1 1044.2,235.4 1050.1,240.4 C1056.0,245.4 1062.3,248.9 1067.8,252.6 C1073.3,256.3 1077.8,258.3 1083.2,262.5 C1088.6,266.7 1095.1,274.2 1100.0,278.0 C1104.9,281.8 1106.6,281.6 1112.8,285.0 C1119.0,288.4 1129.0,294.8 1137.1,298.6 C1145.2,302.4 1154.2,304.9 1161.4,307.7 C1168.6,310.5 1176.1,314.4 1180.0,315.6 C1183.9,316.9 1182.7,315.0 1184.6,315.2 C1186.5,315.4 1189.6,316.0 1191.4,316.7 C1193.2,317.4 1193.8,318.1 1195.2,319.4 C1196.6,320.7 1198.2,322.5 1199.7,324.6 C1201.2,326.7 1202.3,328.9 1204.3,331.9 C1206.3,334.9 1209.9,340.2 1211.9,342.5 C1213.9,344.8 1214.4,343.4 1216.4,345.5 C1218.4,347.6 1221.0,352.0 1224.0,355.4 C1227.0,358.8 1230.8,362.7 1234.6,366.0 C1238.4,369.3 1242.5,371.8 1246.8,375.1 C1251.1,378.4 1256.4,382.5 1260.4,385.7 C1264.4,388.9 1268.2,391.9 1271.0,394.1 C1273.8,396.3 1276.1,398.1 1277.1,398.9" fill="none" stroke="#FF0000" stroke-width="1"/>
<path d="M1.0,191.5 C6.3,193.8 22.6,200.4 33.0,205.3 C43.4,210.2 53.7,216.4 63.4,221.0 C73.1,225.6 80.4,228.1 91.0,232.9 C101.6,237.7 117.8,245.9 127.0,250.0 C136.2,254.1 139.6,254.7 146.0,257.7 C152.4,260.7 159.5,264.9 165.5,268.0 C171.5,271.1 174.6,273.2 182.0,276.2 C189.4,279.2 200.5,282.4 209.7,285.9 C218.9,289.4 228.6,294.2 237.0,297.4 C245.4,300.6 252.5,302.5 260.0,304.9 C267.5,307.3 271.0,308.5 282.0,311.6 C293.0,314.7 313.1,319.8 326.0,323.7 C338.9,327.6 348.1,331.1 359.2,334.8 C370.2,338.5 383.5,342.9 392.3,345.8 C401.1,348.7 405.4,350.1 412.0,352.0 C418.6,353.9 425.7,356.1 432.0,357.3 C438.3,358.5 441.8,358.6 449.7,359.0 C457.6,359.4 467.9,359.8 479.3,359.7 C490.7,359.6 505.0,358.8 517.9,358.3 C530.8,357.8 543.7,357.3 556.6,356.9 C569.5,356.5 584.6,356.3 595.2,356.1 C605.8,355.9 612.1,355.8 620.0,355.5 C627.9,355.2 634.5,354.6 642.6,354.1 C650.7,353.6 660.7,353.5 668.6,352.5 C676.5,351.5 681.9,349.6 690.0,347.9 C698.1,346.2 710.0,344.6 717.2,342.5 C724.4,340.4 727.4,337.8 733.0,335.2 C738.6,332.6 744.5,329.8 751.1,326.7 C757.7,323.6 764.4,320.1 772.5,316.9 C780.6,313.6 789.4,311.0 799.7,307.2 C810.0,303.4 822.3,298.8 834.5,294.1 C846.7,289.4 862.2,283.0 873.1,279.0 C884.0,275.0 891.9,273.3 900.0,270.2 C908.1,267.1 914.6,262.9 922.0,260.3 C929.4,257.7 936.8,256.4 944.2,254.3 C951.6,252.2 958.9,249.4 966.2,247.7 C973.6,245.9 980.9,244.8 988.3,243.8 C995.7,242.8 1003.0,242.2 1010.4,241.5 C1017.8,240.8 1022.9,240.2 1032.5,239.8 C1042.1,239.4 1056.5,238.7 1067.8,238.9 C1079.0,239.1 1092.0,240.5 1100.0,241.1 C1108.0,241.7 1106.6,242.2 1115.8,242.5 C1125.0,242.8 1143.1,242.6 1155.3,243.1 C1167.5,243.6 1179.6,244.5 1188.7,245.5 C1197.8,246.5 1200.3,247.6 1209.9,249.2 C1219.5,250.8 1234.9,253.0 1246.3,255.2 C1257.7,257.4 1272.9,261.0 1278.2,262.2" fill="none" stroke="#000" stroke-width="2"/>

<polyline points="1.3,678.1 12.6,677.6 22.6,674.6 26.4,675.1 30.1,678.1 36.4,676.9 49.0,676.9 57.8,683.7 66.5,683.9 72.8,686.9 77.8,687.4 86.6,691.9 92.9,691.9 99.2,686.9 108.0,680.6 118.0,671.1 128.0,669.3 135.6,666.1 145.6,666.1 150.7,667.6 155.7,671.9 164.5,679.4 174.5,688.9 178.3,688.9 182.0,681.9 200.9,680.6 208.4,678.6 216.0,676.9 228.5,675.6 233.5,677.6 237.3,686.2 243.6,688.7 253.6,691.2 261.1,694.5 266.2,698.7 270.7,698.7 275.0,693.7 283.7,691.2 296.3,689.9 305.1,686.2 318.9,684.4 326.4,680.6 339.0,686.9 344.0,686.9 347.8,685.2 352.8,685.2 357.8,688.7 361.6,688.7 365.3,681.1 376.6,673.6 381.7,676.9 386.7,673.6 396.3,670.1 412.6,670.1 417.6,672.4 421.4,678.1 425.2,679.9 431.4,685.7 437.7,686.2 441.5,691.2 450.3,695.7 455.3,695.2 462.8,688.7 477.9,688.7 485.4,685.7 491.7,683.9 505.5,684.4 509.3,685.7 516.8,692.7 525.6,692.7 529.4,691.9 534.4,693.7 541.9,697.5 546.9,697.0 553.2,686.9 560.8,684.4 568.3,683.2 575.8,678.1 579.6,676.9 584.6,678.1 600.9,678.1 604.7,680.6 609.7,689.4 618.5,693.7 624.8,695.7 629.8,699.5 633.6,702.7 637.3,701.2 642.4,694.5 647.4,694.0 654.9,689.9 663.7,688.2 667.5,686.9 670.0,680.6 676.3,678.9 687.6,678.1 693.8,680.6 697.6,685.7 705.1,687.7 713.9,690.7 720.2,693.7 726.5,699.0 730.2,698.7 741.5,691.2 746.6,689.9 761.6,688.2 765.4,685.7 777.9,684.9 790.0,691.5 798.8,697.0 805.1,697.0 812.6,699.5 821.4,703.7 827.7,702.0 834.0,697.0 846.5,694.5 854.1,690.2 860.4,688.9 876.7,689.9 888.0,696.2 898.0,697.7 903.0,699.5 909.3,702.7 914.3,702.7 920.6,690.7 925.6,685.7 929.4,676.1 936.9,671.1 943.2,665.6 950.7,663.1 958.3,661.3 962.0,656.8 970.8,656.0 977.1,668.1 980.9,670.1 985.9,679.4 997.2,687.7 1001.0,687.7 1006.0,690.7 1009.8,683.2 1013.5,680.6 1017.3,681.9 1022.3,679.9 1028.6,679.9 1033.6,677.6 1042.4,670.6 1048.7,668.6 1053.7,667.3 1060.0,666.1 1065.0,674.4 1072.5,679.4 1077.6,683.7 1083.8,685.7 1093.9,692.7 1100.0,692.9 1106.3,691.3 1113.8,690.7 1121.3,689.8 1126.4,686.7 1131.4,685.7 1137.7,686.3 1142.7,688.0 1149.0,688.0 1154.0,691.9 1159.6,695.7 1166.5,696.0 1170.3,698.0 1177.8,699.5 1182.9,699.2 1187.9,694.2 1192.9,685.4 1200.4,676.2 1204.8,668.7 1210.5,663.1 1216.8,658.7 1222.4,654.9 1236.9,654.9 1241.9,660.6 1248.8,671.9 1256.9,679.4 1260.7,686.3 1267.0,691.9 1272.0,695.7 1277.0,698.2" fill="none" stroke="#00AEDD" stroke-width="2"/>
<line x1="1283.2" y1="454.8" x2="1300.2" y2="400.1" stroke="#0078FF" stroke-width="3"/><polygon points="1302.9,391.5 1304.2,403.4 1300.4,399.6 1295.0,400.6" fill="#0078FF"/><line x1="1315.8" y1="521.4" x2="1339.0" y2="444.7" stroke="#0078FF" stroke-width="3"/><polygon points="1341.6,436.1 1343.0,448.0 1339.1,444.2 1333.8,445.2" fill="#0078FF"/><line x1="1286.2" y1="461.7" x2="1300.9" y2="513.5" stroke="#999999" stroke-width="3"/><polygon points="1303.3,522.2 1295.7,512.9 1301.0,514.0 1304.9,510.3" fill="#999999"/><line x1="1308.1" y1="535.4" x2="1320.3" y2="574.0" stroke="#999999" stroke-width="3"/><polygon points="1323.0,582.6 1315.1,573.6 1320.4,574.5 1324.3,570.7" fill="#999999"/>
<polygon points="4,7 11,7 7.5,11" fill="#303030"/>
</svg>
<div class="t" style="left:16px;top:4px">.DE30Cash,H1&nbsp; 12184.30 12185.12 12154.25 12163.00</div>
<div class="t" style="left:6px;top:604px">Volumes 416</div>
<div class="t" style="left:6px;top:654px">ATR(14) 15.2386</div>
<div class="t" style="left:1px;top:711px">16 Aug 2018</div><div class="t" style="left:65px;top:711px">17 Aug 02:00</div><div class="t" style="left:129px;top:711px">17 Aug 18:00</div><div class="t" style="left:193px;top:711px">20 Aug 11:00</div><div class="t" style="left:257px;top:711px">21 Aug 04:00</div><div class="t" style="left:321px;top:711px">21 Aug 20:00</div><div class="t" style="left:385px;top:711px">22 Aug 13:00</div><div class="t" style="left:449px;top:711px">23 Aug 06:00</div><div class="t" style="left:513px;top:711px">23 Aug 23:00</div><div class="t" style="left:577px;top:711px">24 Aug 15:00</div><div class="t" style="left:641px;top:711px">27 Aug 08:00</div><div class="t" style="left:705px;top:711px">28 Aug 01:00</div><div class="t" style="left:769px;top:711px">28 Aug 17:00</div><div class="t" style="left:833px;top:711px">29 Aug 10:00</div><div class="t" style="left:897px;top:711px">30 Aug 03:00</div><div class="t" style="left:961px;top:711px">30 Aug 19:00</div><div class="t" style="left:1025px;top:711px">31 Aug 12:00</div><div class="t" style="left:1089px;top:711px">3 Sep 05:00</div><div class="t" style="left:1153px;top:711px">3 Sep 23:00</div><div class="t" style="left:1217px;top:711px">4 Sep 15:00</div>
<div class="t" style="left:1552px;top:29px">12669.95</div><div class="t" style="left:1552px;top:62px">12634.25</div><div class="t" style="left:1552px;top:95px">12598.55</div><div class="t" style="left:1552px;top:128px">12562.85</div><div class="t" style="left:1552px;top:161px">12527.15</div><div class="t" style="left:1552px;top:194px">12491.45</div><div class="t" style="left:1552px;top:227px">12455.75</div><div class="t" style="left:1552px;top:260px">12420.05</div><div class="t" style="left:1552px;top:293px">12384.35</div><div class="t" style="left:1552px;top:327px">12348.65</div><div class="t" style="left:1552px;top:360px">12312.95</div><div class="t" style="left:1552px;top:393px">12277.25</div><div class="t" style="left:1552px;top:426px">12241.55</div><div class="t" style="left:1552px;top:459px">12205.85</div><div class="t" style="left:1552px;top:492px">12170.15</div><div class="t" style="left:1552px;top:525px">12134.45</div><div class="t" style="left:1552px;top:558px">12098.75</div><div class="t" style="left:1552px;top:591px">12063.05</div><div class="box" style="top:22px;background:#00CED1">12674.50</div><div class="box" style="top:202px;background:#00CED1">12480.32</div><div class="box" style="top:321px;background:#00CED1">12351.80</div><div class="box" style="top:470px;background:#40E0D0">12190.66</div><div class="box" style="top:580px;background:#00CED1">12070.83</div><div class="box" style="top:496px;background:#3C3C3C">12163.00</div><div class="t" style="left:1550px;top:602px">9033</div><div class="t" style="left:1550px;top:637px">0</div><div class="t" style="left:1550px;top:654px">49.6101</div><div class="t" style="left:1550px;top:696px">9.0499</div>
<div class="sma" style="left:600px;top:305px;color:#FF0000">SMA 50</div>
<div class="sma" style="left:835px;top:297px;color:#000">SMA 200</div>
<div class="brk" style="left:166px;top:46px;font-size:48px;line-height:48px;letter-spacing:1px;transform:scaleX(0.852);transform-origin:0 0">BROKERS</div>
<div class="brk" style="left:168px;top:90px;font-size:15px;line-height:15px;letter-spacing:2.7px">JUST FAIR &amp; DIRECT</div>
</body></html>
